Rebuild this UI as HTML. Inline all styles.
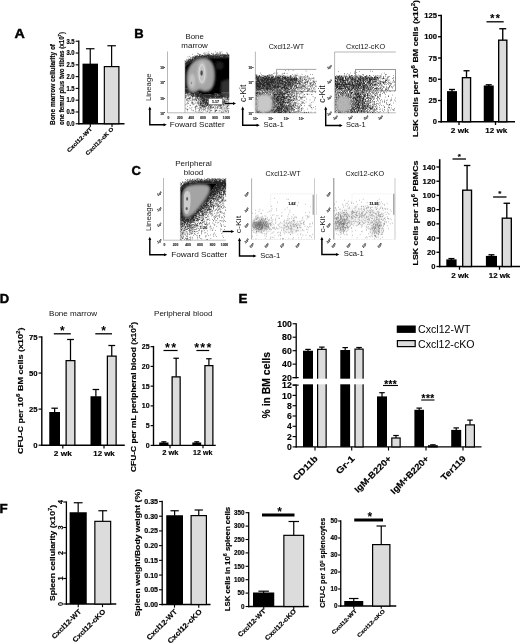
<!DOCTYPE html>
<html><head><meta charset="utf-8"><title>Figure</title>
<style>html,body{margin:0;padding:0;background:#fff}svg{display:block}text{font-family:"Liberation Sans", sans-serif}</style></head><body>
<svg width="520" height="644" viewBox="0 0 520 644">
<defs><filter id="b1" x="-20%" y="-20%" width="140%" height="140%"><feGaussianBlur stdDeviation="1"/></filter><filter id="b2" x="-20%" y="-20%" width="140%" height="140%"><feGaussianBlur stdDeviation="2"/></filter><filter id="b05" x="-20%" y="-20%" width="140%" height="140%"><feGaussianBlur stdDeviation="0.5"/></filter><filter id="soft" x="-2%" y="-2%" width="104%" height="104%"><feGaussianBlur stdDeviation="0.42"/></filter></defs>
<rect width="520" height="644" fill="#fff"/>
<g filter="url(#soft)">
<text x="14.60" y="37.70" font-size="13" font-weight="bold" textLength="10.3" lengthAdjust="spacingAndGlyphs" stroke="#000" stroke-width="0.45">A</text>
<text x="134.20" y="37.70" font-size="13" font-weight="bold" stroke="#000" stroke-width="0.45">B</text>
<text x="131.60" y="174.50" font-size="13" font-weight="bold" stroke="#000" stroke-width="0.45">C</text>
<text x="-0.30" y="303.00" font-size="13" font-weight="bold" stroke="#000" stroke-width="0.45">D</text>
<text x="238.40" y="303.40" font-size="13.4" font-weight="bold" stroke="#000" stroke-width="0.45">E</text>
<text x="-0.40" y="512.90" font-size="13.4" font-weight="bold" stroke="#000" stroke-width="0.45">F</text>
<path d="M78.80 40.60L78.80 124.40" stroke="#000" stroke-width="1.3" fill="none"/>
<path d="M78.15 123.75L124.50 123.75" stroke="#000" stroke-width="1.3" fill="none"/>
<path d="M75.65 123.75L78.80 123.75" stroke="#000" stroke-width="1.105" fill="none"/>
<text x="74.65" y="126.02" font-size="6.3" font-weight="bold" stroke="#000" stroke-width="0.16" text-anchor="end" textLength="8.2" lengthAdjust="spacingAndGlyphs">0.0</text>
<path d="M75.65 111.97L78.80 111.97" stroke="#000" stroke-width="1.105" fill="none"/>
<text x="74.65" y="114.23" font-size="6.3" font-weight="bold" stroke="#000" stroke-width="0.16" text-anchor="end" textLength="8.2" lengthAdjust="spacingAndGlyphs">0.5</text>
<path d="M75.65 100.18L78.80 100.18" stroke="#000" stroke-width="1.105" fill="none"/>
<text x="74.65" y="102.45" font-size="6.3" font-weight="bold" stroke="#000" stroke-width="0.16" text-anchor="end" textLength="8.2" lengthAdjust="spacingAndGlyphs">1.0</text>
<path d="M75.65 88.39L78.80 88.39" stroke="#000" stroke-width="1.105" fill="none"/>
<text x="74.65" y="90.66" font-size="6.3" font-weight="bold" stroke="#000" stroke-width="0.16" text-anchor="end" textLength="8.2" lengthAdjust="spacingAndGlyphs">1.5</text>
<path d="M75.65 76.61L78.80 76.61" stroke="#000" stroke-width="1.105" fill="none"/>
<text x="74.65" y="78.88" font-size="6.3" font-weight="bold" stroke="#000" stroke-width="0.16" text-anchor="end" textLength="8.2" lengthAdjust="spacingAndGlyphs">2.0</text>
<path d="M75.65 64.83L78.80 64.83" stroke="#000" stroke-width="1.105" fill="none"/>
<text x="74.65" y="67.09" font-size="6.3" font-weight="bold" stroke="#000" stroke-width="0.16" text-anchor="end" textLength="8.2" lengthAdjust="spacingAndGlyphs">2.5</text>
<path d="M75.65 53.04L78.80 53.04" stroke="#000" stroke-width="1.105" fill="none"/>
<text x="74.65" y="55.31" font-size="6.3" font-weight="bold" stroke="#000" stroke-width="0.16" text-anchor="end" textLength="8.2" lengthAdjust="spacingAndGlyphs">3.0</text>
<path d="M75.65 41.25L78.80 41.25" stroke="#000" stroke-width="1.105" fill="none"/>
<text x="74.65" y="43.52" font-size="6.3" font-weight="bold" stroke="#000" stroke-width="0.16" text-anchor="end" textLength="8.2" lengthAdjust="spacingAndGlyphs">3.5</text>
<path d="M90.30 123.75L90.30 126.90" stroke="#000" stroke-width="1.105" fill="none"/>
<path d="M112.00 123.75L112.00 126.90" stroke="#000" stroke-width="1.105" fill="none"/>
<path d="M90.25 48.75L90.25 64.15" stroke="#000" stroke-width="1.2" fill="none"/>
<path d="M86.00 48.75L94.50 48.75" stroke="#000" stroke-width="1.2" fill="none"/>
<rect x="82.50" y="63.65" width="15.50" height="60.10" fill="#000"/>
<path d="M111.62 45.75L111.62 66.50" stroke="#000" stroke-width="1.2" fill="none"/>
<path d="M107.38 45.75L115.88 45.75" stroke="#000" stroke-width="1.2" fill="none"/>
<rect x="104.35" y="66.60" width="14.55" height="57.15" fill="#dcdcdc" stroke="#000" stroke-width="1.2"/>
<text x="55.00" y="125.00" font-size="6.3" font-weight="bold" stroke="#000" stroke-width="0.16" transform="rotate(-90 55.00 125.00)" textLength="81.0" lengthAdjust="spacingAndGlyphs">Bone marrow cellularity of</text>
<text x="63.50" y="125.00" font-size="6.3" font-weight="bold" stroke="#000" stroke-width="0.16" transform="rotate(-90 63.50 125.00)" textLength="93.0" lengthAdjust="spacingAndGlyphs">one femur plus two tibias (x10<tspan dy="-2.52" font-size="4.28">7</tspan><tspan dy="2.52">)</tspan></text>
<text x="92.50" y="129.50" font-size="5.6" font-weight="bold" stroke="#000" stroke-width="0.16" text-anchor="end" transform="rotate(-45 92.50 129.50)" textLength="33.0" lengthAdjust="spacingAndGlyphs">Cxcl12-WT</text>
<text x="114.00" y="129.50" font-size="5.6" font-weight="bold" stroke="#000" stroke-width="0.16" text-anchor="end" transform="rotate(-45 114.00 129.50)" textLength="37.0" lengthAdjust="spacingAndGlyphs">Cxcl12-cK O</text>
<path d="M441.25 14.72L441.25 122.53" stroke="#000" stroke-width="1.55" fill="none"/>
<path d="M440.48 121.75L515.00 121.75" stroke="#000" stroke-width="1.55" fill="none"/>
<path d="M437.98 121.75L441.25 121.75" stroke="#000" stroke-width="1.3175" fill="none"/>
<text x="436.98" y="124.27" font-size="7" font-weight="bold" stroke="#000" stroke-width="0.16" text-anchor="end" textLength="4.2" lengthAdjust="spacingAndGlyphs">0</text>
<path d="M437.98 100.50L441.25 100.50" stroke="#000" stroke-width="1.3175" fill="none"/>
<text x="436.98" y="103.02" font-size="7" font-weight="bold" stroke="#000" stroke-width="0.16" text-anchor="end" textLength="8.5" lengthAdjust="spacingAndGlyphs">25</text>
<path d="M437.98 79.25L441.25 79.25" stroke="#000" stroke-width="1.3175" fill="none"/>
<text x="436.98" y="81.77" font-size="7" font-weight="bold" stroke="#000" stroke-width="0.16" text-anchor="end" textLength="8.5" lengthAdjust="spacingAndGlyphs">50</text>
<path d="M437.98 58.00L441.25 58.00" stroke="#000" stroke-width="1.3175" fill="none"/>
<text x="436.98" y="60.52" font-size="7" font-weight="bold" stroke="#000" stroke-width="0.16" text-anchor="end" textLength="8.5" lengthAdjust="spacingAndGlyphs">75</text>
<path d="M437.98 36.75L441.25 36.75" stroke="#000" stroke-width="1.3175" fill="none"/>
<text x="436.98" y="39.27" font-size="7" font-weight="bold" stroke="#000" stroke-width="0.16" text-anchor="end" textLength="12.8" lengthAdjust="spacingAndGlyphs">100</text>
<path d="M437.98 15.50L441.25 15.50" stroke="#000" stroke-width="1.3175" fill="none"/>
<text x="436.98" y="18.02" font-size="7" font-weight="bold" stroke="#000" stroke-width="0.16" text-anchor="end" textLength="12.8" lengthAdjust="spacingAndGlyphs">125</text>
<path d="M459.00 121.75L459.00 125.03" stroke="#000" stroke-width="1.3175" fill="none"/>
<path d="M495.50 121.75L495.50 125.03" stroke="#000" stroke-width="1.3175" fill="none"/>
<path d="M452.00 89.50L452.00 91.65" stroke="#000" stroke-width="1.35" fill="none"/>
<path d="M449.00 89.50L455.00 89.50" stroke="#000" stroke-width="1.35" fill="none"/>
<rect x="447.00" y="91.15" width="10.00" height="30.60" fill="#000"/>
<path d="M466.50 70.75L466.50 77.50" stroke="#000" stroke-width="1.35" fill="none"/>
<path d="M463.50 70.75L469.50 70.75" stroke="#000" stroke-width="1.35" fill="none"/>
<rect x="462.43" y="77.67" width="8.15" height="44.08" fill="#dcdcdc" stroke="#000" stroke-width="1.35"/>
<path d="M488.75 84.80L488.75 86.00" stroke="#000" stroke-width="1.35" fill="none"/>
<path d="M485.75 84.80L491.75 84.80" stroke="#000" stroke-width="1.35" fill="none"/>
<rect x="483.75" y="85.50" width="10.00" height="36.25" fill="#000"/>
<path d="M502.75 28.75L502.75 40.00" stroke="#000" stroke-width="1.35" fill="none"/>
<path d="M499.25 28.75L506.25 28.75" stroke="#000" stroke-width="1.35" fill="none"/>
<rect x="498.68" y="40.17" width="8.15" height="81.58" fill="#dcdcdc" stroke="#000" stroke-width="1.35"/>
<path d="M486.50 21.80L503.70 21.80" stroke="#000" stroke-width="1.3" fill="none"/>
<text x="495.10" y="21.66" font-size="10.5" font-weight="bold" stroke="#000" stroke-width="0.16" text-anchor="middle" textLength="9.6" lengthAdjust="spacing">**</text>
<text x="459.80" y="133.00" font-size="7.4" font-weight="bold" stroke="#000" stroke-width="0.16" text-anchor="middle" textLength="18.0" lengthAdjust="spacingAndGlyphs">2 wk</text>
<text x="496.30" y="133.00" font-size="7.4" font-weight="bold" stroke="#000" stroke-width="0.16" text-anchor="middle" textLength="22.0" lengthAdjust="spacingAndGlyphs">12 wk</text>
<text x="417.80" y="137.00" font-size="7.8" font-weight="bold" stroke="#000" stroke-width="0.16" transform="rotate(-90 417.80 137.00)" textLength="137.0" lengthAdjust="spacingAndGlyphs">LSK cells per 10<tspan dy="-3.12" font-size="5.30">6</tspan><tspan dy="3.12"> BM cells (x10<tspan dy="-3.12" font-size="5.30">2</tspan><tspan dy="3.12">)</tspan></tspan></text>
<path d="M439.70 159.22L439.70 267.27" stroke="#000" stroke-width="1.55" fill="none"/>
<path d="M438.93 266.50L520.00 266.50" stroke="#000" stroke-width="1.55" fill="none"/>
<path d="M436.43 266.50L439.70 266.50" stroke="#000" stroke-width="1.3175" fill="none"/>
<text x="435.43" y="269.02" font-size="7" font-weight="bold" stroke="#000" stroke-width="0.16" text-anchor="end" textLength="4.2" lengthAdjust="spacingAndGlyphs">0</text>
<path d="M436.43 252.29L439.70 252.29" stroke="#000" stroke-width="1.3175" fill="none"/>
<text x="435.43" y="254.81" font-size="7" font-weight="bold" stroke="#000" stroke-width="0.16" text-anchor="end" textLength="8.5" lengthAdjust="spacingAndGlyphs">20</text>
<path d="M436.43 238.07L439.70 238.07" stroke="#000" stroke-width="1.3175" fill="none"/>
<text x="435.43" y="240.59" font-size="7" font-weight="bold" stroke="#000" stroke-width="0.16" text-anchor="end" textLength="8.5" lengthAdjust="spacingAndGlyphs">40</text>
<path d="M436.43 223.86L439.70 223.86" stroke="#000" stroke-width="1.3175" fill="none"/>
<text x="435.43" y="226.38" font-size="7" font-weight="bold" stroke="#000" stroke-width="0.16" text-anchor="end" textLength="8.5" lengthAdjust="spacingAndGlyphs">60</text>
<path d="M436.43 209.64L439.70 209.64" stroke="#000" stroke-width="1.3175" fill="none"/>
<text x="435.43" y="212.16" font-size="7" font-weight="bold" stroke="#000" stroke-width="0.16" text-anchor="end" textLength="8.5" lengthAdjust="spacingAndGlyphs">80</text>
<path d="M436.43 195.43L439.70 195.43" stroke="#000" stroke-width="1.3175" fill="none"/>
<text x="435.43" y="197.95" font-size="7" font-weight="bold" stroke="#000" stroke-width="0.16" text-anchor="end" textLength="12.8" lengthAdjust="spacingAndGlyphs">100</text>
<path d="M436.43 181.22L439.70 181.22" stroke="#000" stroke-width="1.3175" fill="none"/>
<text x="435.43" y="183.74" font-size="7" font-weight="bold" stroke="#000" stroke-width="0.16" text-anchor="end" textLength="12.8" lengthAdjust="spacingAndGlyphs">120</text>
<path d="M436.43 167.00L439.70 167.00" stroke="#000" stroke-width="1.3175" fill="none"/>
<text x="435.43" y="169.52" font-size="7" font-weight="bold" stroke="#000" stroke-width="0.16" text-anchor="end" textLength="12.8" lengthAdjust="spacingAndGlyphs">140</text>
<path d="M459.50 266.50L459.50 269.77" stroke="#000" stroke-width="1.3175" fill="none"/>
<path d="M499.50 266.50L499.50 269.77" stroke="#000" stroke-width="1.3175" fill="none"/>
<path d="M451.45 258.60L451.45 259.90" stroke="#000" stroke-width="1.35" fill="none"/>
<path d="M448.45 258.60L454.45 258.60" stroke="#000" stroke-width="1.35" fill="none"/>
<rect x="446.30" y="259.40" width="10.30" height="7.10" fill="#000"/>
<path d="M467.10 165.50L467.10 190.00" stroke="#000" stroke-width="1.35" fill="none"/>
<path d="M463.85 165.50L470.35 165.50" stroke="#000" stroke-width="1.35" fill="none"/>
<rect x="462.68" y="190.18" width="8.85" height="76.33" fill="#dcdcdc" stroke="#000" stroke-width="1.35"/>
<path d="M491.45 254.80L491.45 256.40" stroke="#000" stroke-width="1.35" fill="none"/>
<path d="M488.45 254.80L494.45 254.80" stroke="#000" stroke-width="1.35" fill="none"/>
<rect x="485.90" y="255.90" width="11.10" height="10.60" fill="#000"/>
<path d="M506.80 203.25L506.80 218.00" stroke="#000" stroke-width="1.35" fill="none"/>
<path d="M503.55 203.25L510.05 203.25" stroke="#000" stroke-width="1.35" fill="none"/>
<rect x="502.28" y="218.18" width="9.05" height="48.33" fill="#dcdcdc" stroke="#000" stroke-width="1.35"/>
<path d="M452.50 159.00L466.00 159.00" stroke="#000" stroke-width="1.3" fill="none"/>
<text x="459.25" y="158.98" font-size="8" font-weight="bold" stroke="#000" stroke-width="0.16" text-anchor="middle">*</text>
<path d="M493.10 197.00L506.50 197.00" stroke="#000" stroke-width="1.3" fill="none"/>
<text x="499.80" y="196.48" font-size="8" font-weight="bold" stroke="#000" stroke-width="0.16" text-anchor="middle">*</text>
<text x="460.00" y="277.50" font-size="7.4" font-weight="bold" stroke="#000" stroke-width="0.16" text-anchor="middle" textLength="17.5" lengthAdjust="spacingAndGlyphs">2 wk</text>
<text x="499.50" y="277.50" font-size="7.4" font-weight="bold" stroke="#000" stroke-width="0.16" text-anchor="middle" textLength="21.5" lengthAdjust="spacingAndGlyphs">12 wk</text>
<text x="417.80" y="265.50" font-size="7.8" font-weight="bold" stroke="#000" stroke-width="0.16" transform="rotate(-90 417.80 265.50)" textLength="105.0" lengthAdjust="spacingAndGlyphs">LSK cells per 10<tspan dy="-3.12" font-size="5.30">6</tspan><tspan dy="3.12"> PBMCs</tspan></text>
<path d="M41.80 336.27L41.80 445.90" stroke="#000" stroke-width="1.4" fill="none"/>
<path d="M41.10 445.20L124.80 445.20" stroke="#000" stroke-width="1.4" fill="none"/>
<path d="M38.60 445.20L41.80 445.20" stroke="#000" stroke-width="1.19" fill="none"/>
<text x="37.60" y="447.90" font-size="7.5" font-weight="bold" stroke="#000" stroke-width="0.16" text-anchor="end" textLength="4.3" lengthAdjust="spacingAndGlyphs">0</text>
<path d="M38.60 409.12L41.80 409.12" stroke="#000" stroke-width="1.19" fill="none"/>
<text x="37.60" y="411.82" font-size="7.5" font-weight="bold" stroke="#000" stroke-width="0.16" text-anchor="end" textLength="8.6" lengthAdjust="spacingAndGlyphs">25</text>
<path d="M38.60 373.05L41.80 373.05" stroke="#000" stroke-width="1.19" fill="none"/>
<text x="37.60" y="375.75" font-size="7.5" font-weight="bold" stroke="#000" stroke-width="0.16" text-anchor="end" textLength="8.6" lengthAdjust="spacingAndGlyphs">50</text>
<path d="M38.60 336.97L41.80 336.97" stroke="#000" stroke-width="1.19" fill="none"/>
<text x="37.60" y="339.67" font-size="7.5" font-weight="bold" stroke="#000" stroke-width="0.16" text-anchor="end" textLength="8.6" lengthAdjust="spacingAndGlyphs">75</text>
<path d="M62.80 445.20L62.80 448.40" stroke="#000" stroke-width="1.19" fill="none"/>
<path d="M104.00 445.20L104.00 448.40" stroke="#000" stroke-width="1.19" fill="none"/>
<path d="M54.62 408.20L54.62 412.50" stroke="#000" stroke-width="1.25" fill="none"/>
<path d="M51.38 408.20L57.88 408.20" stroke="#000" stroke-width="1.25" fill="none"/>
<rect x="49.25" y="412.00" width="10.75" height="33.20" fill="#000"/>
<path d="M70.50 339.50L70.50 360.50" stroke="#000" stroke-width="1.25" fill="none"/>
<path d="M67.10 339.50L73.90 339.50" stroke="#000" stroke-width="1.25" fill="none"/>
<rect x="66.12" y="360.62" width="8.75" height="84.57" fill="#dcdcdc" stroke="#000" stroke-width="1.25"/>
<path d="M95.88 389.50L95.88 396.75" stroke="#000" stroke-width="1.25" fill="none"/>
<path d="M92.62 389.50L99.12 389.50" stroke="#000" stroke-width="1.25" fill="none"/>
<rect x="90.50" y="396.25" width="10.75" height="48.95" fill="#000"/>
<path d="M111.75 345.50L111.75 356.00" stroke="#000" stroke-width="1.25" fill="none"/>
<path d="M108.35 345.50L115.15 345.50" stroke="#000" stroke-width="1.25" fill="none"/>
<rect x="107.38" y="356.12" width="8.75" height="89.07" fill="#dcdcdc" stroke="#000" stroke-width="1.25"/>
<path d="M53.80 333.80L70.80 333.80" stroke="#000" stroke-width="1.3" fill="none"/>
<text x="62.30" y="334.62" font-size="12" font-weight="bold" text-anchor="middle">*</text>
<path d="M95.30 333.80L112.00 333.80" stroke="#000" stroke-width="1.3" fill="none"/>
<text x="103.65" y="334.62" font-size="12" font-weight="bold" text-anchor="middle">*</text>
<text x="73.00" y="315.60" font-size="7.4" text-anchor="middle" textLength="48.0" lengthAdjust="spacingAndGlyphs" fill="#111">Bone marrow</text>
<text x="62.80" y="456.30" font-size="7.2" font-weight="bold" stroke="#000" stroke-width="0.16" text-anchor="middle" textLength="18.0" lengthAdjust="spacingAndGlyphs">2 wk</text>
<text x="104.00" y="456.30" font-size="7.2" font-weight="bold" stroke="#000" stroke-width="0.16" text-anchor="middle" textLength="21.5" lengthAdjust="spacingAndGlyphs">12 wk</text>
<text x="23.40" y="454.00" font-size="8.0" font-weight="bold" stroke="#000" stroke-width="0.16" transform="rotate(-90 23.40 454.00)" textLength="126.5" lengthAdjust="spacingAndGlyphs">CFU-C per 10<tspan dy="-3.20" font-size="5.44">6</tspan><tspan dy="3.20"> BM cells (x10<tspan dy="-3.20" font-size="5.44">2</tspan><tspan dy="3.20">)</tspan></tspan></text>
<path d="M153.50 345.95L153.50 446.10" stroke="#000" stroke-width="1.4" fill="none"/>
<path d="M152.80 445.40L215.75 445.40" stroke="#000" stroke-width="1.4" fill="none"/>
<path d="M150.60 445.40L153.50 445.40" stroke="#000" stroke-width="1.19" fill="none"/>
<text x="149.60" y="447.85" font-size="6.8" font-weight="bold" stroke="#000" stroke-width="0.16" text-anchor="end" textLength="3.9" lengthAdjust="spacingAndGlyphs">0</text>
<path d="M150.60 425.65L153.50 425.65" stroke="#000" stroke-width="1.19" fill="none"/>
<text x="149.60" y="428.10" font-size="6.8" font-weight="bold" stroke="#000" stroke-width="0.16" text-anchor="end" textLength="3.9" lengthAdjust="spacingAndGlyphs">5</text>
<path d="M150.60 405.90L153.50 405.90" stroke="#000" stroke-width="1.19" fill="none"/>
<text x="149.60" y="408.35" font-size="6.8" font-weight="bold" stroke="#000" stroke-width="0.16" text-anchor="end" textLength="7.8" lengthAdjust="spacingAndGlyphs">10</text>
<path d="M150.60 386.15L153.50 386.15" stroke="#000" stroke-width="1.19" fill="none"/>
<text x="149.60" y="388.60" font-size="6.8" font-weight="bold" stroke="#000" stroke-width="0.16" text-anchor="end" textLength="7.8" lengthAdjust="spacingAndGlyphs">15</text>
<path d="M150.60 366.40L153.50 366.40" stroke="#000" stroke-width="1.19" fill="none"/>
<text x="149.60" y="368.85" font-size="6.8" font-weight="bold" stroke="#000" stroke-width="0.16" text-anchor="end" textLength="7.8" lengthAdjust="spacingAndGlyphs">20</text>
<path d="M150.60 346.65L153.50 346.65" stroke="#000" stroke-width="1.19" fill="none"/>
<text x="149.60" y="349.10" font-size="6.8" font-weight="bold" stroke="#000" stroke-width="0.16" text-anchor="end" textLength="7.8" lengthAdjust="spacingAndGlyphs">25</text>
<path d="M170.00 445.40L170.00 448.30" stroke="#000" stroke-width="1.19" fill="none"/>
<path d="M203.00 445.40L203.00 448.30" stroke="#000" stroke-width="1.19" fill="none"/>
<path d="M163.85 441.80L163.85 443.00" stroke="#000" stroke-width="1.25" fill="none"/>
<path d="M161.35 441.80L166.35 441.80" stroke="#000" stroke-width="1.25" fill="none"/>
<rect x="159.20" y="442.50" width="9.30" height="2.90" fill="#000"/>
<path d="M176.15 358.25L176.15 376.75" stroke="#000" stroke-width="1.25" fill="none"/>
<path d="M173.40 358.25L178.90 358.25" stroke="#000" stroke-width="1.25" fill="none"/>
<rect x="172.12" y="376.88" width="8.05" height="68.52" fill="#dcdcdc" stroke="#000" stroke-width="1.25"/>
<path d="M196.75 441.80L196.75 443.00" stroke="#000" stroke-width="1.25" fill="none"/>
<path d="M194.25 441.80L199.25 441.80" stroke="#000" stroke-width="1.25" fill="none"/>
<rect x="192.30" y="442.50" width="8.90" height="2.90" fill="#000"/>
<path d="M208.90 358.75L208.90 365.50" stroke="#000" stroke-width="1.25" fill="none"/>
<path d="M206.15 358.75L211.65 358.75" stroke="#000" stroke-width="1.25" fill="none"/>
<rect x="204.93" y="365.62" width="7.95" height="79.77" fill="#dcdcdc" stroke="#000" stroke-width="1.25"/>
<path d="M163.50 350.50L177.60 350.50" stroke="#000" stroke-width="1.2" fill="none"/>
<text x="170.55" y="351.68" font-size="12.5" font-weight="bold" text-anchor="middle" textLength="11.0" lengthAdjust="spacing">**</text>
<path d="M196.40 350.50L209.20 350.50" stroke="#000" stroke-width="1.2" fill="none"/>
<text x="202.80" y="351.68" font-size="12.5" font-weight="bold" text-anchor="middle" textLength="17.0" lengthAdjust="spacing">***</text>
<text x="183.30" y="316.20" font-size="7.4" text-anchor="middle" textLength="58.5" lengthAdjust="spacingAndGlyphs" fill="#111">Peripheral blood</text>
<text x="170.30" y="455.40" font-size="6.8" font-weight="bold" stroke="#000" stroke-width="0.16" text-anchor="middle" textLength="16.2" lengthAdjust="spacingAndGlyphs">2 wk</text>
<text x="202.70" y="455.40" font-size="6.8" font-weight="bold" stroke="#000" stroke-width="0.16" text-anchor="middle" textLength="19.3" lengthAdjust="spacingAndGlyphs">12 wk</text>
<text x="136.00" y="472.00" font-size="6.8" font-weight="bold" stroke="#000" stroke-width="0.16" transform="rotate(-90 136.00 472.00)" textLength="150.0" lengthAdjust="spacingAndGlyphs">CFU-C per mL peripheral blood (x10<tspan dy="-2.72" font-size="4.62">2</tspan><tspan dy="2.72">)</tspan></text>
<path d="M296.20 323.15L296.20 378.40" stroke="#000" stroke-width="1.3" fill="none"/>
<path d="M296.20 384.60L296.20 447.50" stroke="#000" stroke-width="1.3" fill="none"/>
<path d="M295.60 446.90L481.50 446.90" stroke="#000" stroke-width="1.3" fill="none"/>
<path d="M292.60 377.60L296.20 377.60" stroke="#000" stroke-width="1.15" fill="none"/>
<text x="291.80" y="380.70" font-size="8.8" font-weight="bold" stroke="#000" stroke-width="0.16" text-anchor="end" textLength="9.7" lengthAdjust="spacingAndGlyphs">20</text>
<path d="M292.60 364.14L296.20 364.14" stroke="#000" stroke-width="1.15" fill="none"/>
<text x="291.80" y="367.24" font-size="8.8" font-weight="bold" stroke="#000" stroke-width="0.16" text-anchor="end" textLength="9.7" lengthAdjust="spacingAndGlyphs">40</text>
<path d="M292.60 350.68L296.20 350.68" stroke="#000" stroke-width="1.15" fill="none"/>
<text x="291.80" y="353.78" font-size="8.8" font-weight="bold" stroke="#000" stroke-width="0.16" text-anchor="end" textLength="9.7" lengthAdjust="spacingAndGlyphs">60</text>
<path d="M292.60 337.21L296.20 337.21" stroke="#000" stroke-width="1.15" fill="none"/>
<text x="291.80" y="340.31" font-size="8.8" font-weight="bold" stroke="#000" stroke-width="0.16" text-anchor="end" textLength="9.7" lengthAdjust="spacingAndGlyphs">80</text>
<path d="M292.60 323.75L296.20 323.75" stroke="#000" stroke-width="1.15" fill="none"/>
<text x="291.80" y="326.85" font-size="8.8" font-weight="bold" stroke="#000" stroke-width="0.16" text-anchor="end" textLength="14.5" lengthAdjust="spacingAndGlyphs">100</text>
<path d="M292.60 446.90L296.20 446.90" stroke="#000" stroke-width="1.15" fill="none"/>
<text x="291.80" y="450.00" font-size="8.8" font-weight="bold" stroke="#000" stroke-width="0.16" text-anchor="end" textLength="4.8" lengthAdjust="spacingAndGlyphs">0</text>
<path d="M292.60 436.60L296.20 436.60" stroke="#000" stroke-width="1.15" fill="none"/>
<text x="291.80" y="439.70" font-size="8.8" font-weight="bold" stroke="#000" stroke-width="0.16" text-anchor="end" textLength="4.8" lengthAdjust="spacingAndGlyphs">2</text>
<path d="M292.60 426.30L296.20 426.30" stroke="#000" stroke-width="1.15" fill="none"/>
<text x="291.80" y="429.40" font-size="8.8" font-weight="bold" stroke="#000" stroke-width="0.16" text-anchor="end" textLength="4.8" lengthAdjust="spacingAndGlyphs">4</text>
<path d="M292.60 416.00L296.20 416.00" stroke="#000" stroke-width="1.15" fill="none"/>
<text x="291.80" y="419.10" font-size="8.8" font-weight="bold" stroke="#000" stroke-width="0.16" text-anchor="end" textLength="4.8" lengthAdjust="spacingAndGlyphs">6</text>
<path d="M292.60 405.70L296.20 405.70" stroke="#000" stroke-width="1.15" fill="none"/>
<text x="291.80" y="408.80" font-size="8.8" font-weight="bold" stroke="#000" stroke-width="0.16" text-anchor="end" textLength="4.8" lengthAdjust="spacingAndGlyphs">8</text>
<path d="M292.60 395.40L296.20 395.40" stroke="#000" stroke-width="1.15" fill="none"/>
<text x="291.80" y="398.50" font-size="8.8" font-weight="bold" stroke="#000" stroke-width="0.16" text-anchor="end" textLength="9.7" lengthAdjust="spacingAndGlyphs">10</text>
<path d="M292.60 385.10L296.20 385.10" stroke="#000" stroke-width="1.15" fill="none"/>
<text x="291.80" y="388.20" font-size="8.8" font-weight="bold" stroke="#000" stroke-width="0.16" text-anchor="end" textLength="9.7" lengthAdjust="spacingAndGlyphs">12</text>
<path d="M292.60 377.60L298.70 377.60" stroke="#000" stroke-width="1.15" fill="none"/>
<path d="M292.60 385.10L298.70 385.10" stroke="#000" stroke-width="1.15" fill="none"/>
<path d="M315.00 446.90L315.00 450.50" stroke="#000" stroke-width="1.15" fill="none"/>
<path d="M351.70 446.90L351.70 450.50" stroke="#000" stroke-width="1.15" fill="none"/>
<path d="M388.50 446.90L388.50 450.50" stroke="#000" stroke-width="1.15" fill="none"/>
<path d="M426.00 446.90L426.00 450.50" stroke="#000" stroke-width="1.15" fill="none"/>
<path d="M463.00 446.90L463.00 450.50" stroke="#000" stroke-width="1.15" fill="none"/>
<path d="M308.00 349.40L308.00 351.25" stroke="#000" stroke-width="1.2" fill="none"/>
<path d="M305.25 349.40L310.75 349.40" stroke="#000" stroke-width="1.2" fill="none"/>
<rect x="303.00" y="350.75" width="10.00" height="96.15" fill="#000"/>
<path d="M321.88 347.10L321.88 349.25" stroke="#000" stroke-width="1.2" fill="none"/>
<path d="M319.12 347.10L324.62 347.10" stroke="#000" stroke-width="1.2" fill="none"/>
<rect x="317.60" y="349.35" width="8.55" height="97.55" fill="#dcdcdc" stroke="#000" stroke-width="1.2"/>
<path d="M345.20 347.60L345.20 350.50" stroke="#000" stroke-width="1.2" fill="none"/>
<path d="M342.45 347.60L347.95 347.60" stroke="#000" stroke-width="1.2" fill="none"/>
<rect x="340.30" y="350.00" width="9.80" height="96.90" fill="#000"/>
<path d="M359.05 347.50L359.05 349.00" stroke="#000" stroke-width="1.2" fill="none"/>
<path d="M356.30 347.50L361.80 347.50" stroke="#000" stroke-width="1.2" fill="none"/>
<rect x="355.00" y="349.10" width="8.10" height="97.80" fill="#dcdcdc" stroke="#000" stroke-width="1.2"/>
<rect x="300.00" y="378.70" width="66.00" height="5.60" fill="#fff"/>
<path d="M382.00 392.70L382.00 396.90" stroke="#000" stroke-width="1.2" fill="none"/>
<path d="M379.25 392.70L384.75 392.70" stroke="#000" stroke-width="1.2" fill="none"/>
<rect x="377.00" y="396.40" width="10.00" height="50.50" fill="#000"/>
<path d="M395.98 435.50L395.98 437.90" stroke="#000" stroke-width="1.2" fill="none"/>
<path d="M393.23 435.50L398.73 435.50" stroke="#000" stroke-width="1.2" fill="none"/>
<rect x="391.80" y="438.00" width="8.35" height="8.90" fill="#dcdcdc" stroke="#000" stroke-width="1.2"/>
<path d="M419.20 408.10L419.20 410.30" stroke="#000" stroke-width="1.2" fill="none"/>
<path d="M416.45 408.10L421.95 408.10" stroke="#000" stroke-width="1.2" fill="none"/>
<rect x="414.40" y="409.80" width="9.60" height="37.10" fill="#000"/>
<path d="M432.90 444.80L432.90 445.70" stroke="#000" stroke-width="1.2" fill="none"/>
<path d="M430.15 444.80L435.65 444.80" stroke="#000" stroke-width="1.2" fill="none"/>
<rect x="428.60" y="445.80" width="8.60" height="1.10" fill="#dcdcdc" stroke="#000" stroke-width="1.2"/>
<path d="M456.20 427.90L456.20 430.40" stroke="#000" stroke-width="1.2" fill="none"/>
<path d="M453.45 427.90L458.95 427.90" stroke="#000" stroke-width="1.2" fill="none"/>
<rect x="451.20" y="429.90" width="10.00" height="17.00" fill="#000"/>
<path d="M470.00 420.10L470.00 424.80" stroke="#000" stroke-width="1.2" fill="none"/>
<path d="M467.25 420.10L472.75 420.10" stroke="#000" stroke-width="1.2" fill="none"/>
<rect x="465.60" y="424.90" width="8.80" height="22.00" fill="#dcdcdc" stroke="#000" stroke-width="1.2"/>
<path d="M383.00 385.50L398.00 385.50" stroke="#000" stroke-width="1.1" fill="none"/>
<text x="390.50" y="387.50" font-size="10" font-weight="bold" stroke="#000" stroke-width="0.16" text-anchor="middle" textLength="12.5" lengthAdjust="spacing">***</text>
<path d="M421.20 400.00L434.50 400.00" stroke="#000" stroke-width="1.1" fill="none"/>
<text x="427.85" y="401.50" font-size="10" font-weight="bold" stroke="#000" stroke-width="0.16" text-anchor="middle" textLength="12.5" lengthAdjust="spacing">***</text>
<rect x="396.75" y="325.50" width="19.00" height="7.40" fill="#000"/>
<rect x="397.40" y="340.60" width="17.80" height="6.00" fill="#dcdcdc" stroke="#000" stroke-width="1.2"/>
<text x="418.00" y="333.20" font-size="10.7" textLength="52.5" lengthAdjust="spacingAndGlyphs">Cxcl12-WT</text>
<text x="418.00" y="347.60" font-size="10.7" textLength="56.5" lengthAdjust="spacingAndGlyphs">Cxcl12-cKO</text>
<text x="269.60" y="418.50" font-size="10" font-weight="bold" stroke="#000" stroke-width="0.16" transform="rotate(-90 269.60 418.50)" textLength="66.5" lengthAdjust="spacingAndGlyphs">% in BM cells</text>
<text x="318.40" y="459.30" font-size="8.9" font-weight="bold" stroke="#000" stroke-width="0.16" text-anchor="end" transform="rotate(-45 318.40 459.30)" textLength="31.0" lengthAdjust="spacingAndGlyphs">CD11b</text>
<text x="355.10" y="459.30" font-size="8.9" font-weight="bold" stroke="#000" stroke-width="0.16" text-anchor="end" transform="rotate(-45 355.10 459.30)" textLength="22.0" lengthAdjust="spacingAndGlyphs">Gr-1</text>
<text x="391.90" y="459.30" font-size="8.9" font-weight="bold" stroke="#000" stroke-width="0.16" text-anchor="end" transform="rotate(-45 391.90 459.30)" textLength="48.0" lengthAdjust="spacingAndGlyphs">IgM-B220+</text>
<text x="429.40" y="459.30" font-size="8.9" font-weight="bold" stroke="#000" stroke-width="0.16" text-anchor="end" transform="rotate(-45 429.40 459.30)" textLength="50.0" lengthAdjust="spacingAndGlyphs">IgM+B220+</text>
<text x="466.40" y="459.30" font-size="8.9" font-weight="bold" stroke="#000" stroke-width="0.16" text-anchor="end" transform="rotate(-45 466.40 459.30)" textLength="31.0" lengthAdjust="spacingAndGlyphs">Ter119</text>
<path d="M66.40 501.35L66.40 604.65" stroke="#000" stroke-width="1.3" fill="none"/>
<path d="M65.75 604.00L116.25 604.00" stroke="#000" stroke-width="1.3" fill="none"/>
<path d="M63.25 604.00L66.40 604.00" stroke="#000" stroke-width="1.105" fill="none"/>
<path d="M63.25 578.50L66.40 578.50" stroke="#000" stroke-width="1.105" fill="none"/>
<path d="M63.25 553.00L66.40 553.00" stroke="#000" stroke-width="1.105" fill="none"/>
<path d="M63.25 527.50L66.40 527.50" stroke="#000" stroke-width="1.105" fill="none"/>
<path d="M63.25 502.00L66.40 502.00" stroke="#000" stroke-width="1.105" fill="none"/>
<path d="M78.25 604.00L78.25 607.15" stroke="#000" stroke-width="1.105" fill="none"/>
<path d="M102.50 604.00L102.50 607.15" stroke="#000" stroke-width="1.105" fill="none"/>
<text x="62.60" y="604.00" font-size="7.2" font-weight="bold" stroke="#000" stroke-width="0.16" text-anchor="middle" transform="rotate(-90 62.60 604.00)">0</text>
<text x="62.60" y="578.50" font-size="7.2" font-weight="bold" stroke="#000" stroke-width="0.16" text-anchor="middle" transform="rotate(-90 62.60 578.50)">1</text>
<text x="62.60" y="553.00" font-size="7.2" font-weight="bold" stroke="#000" stroke-width="0.16" text-anchor="middle" transform="rotate(-90 62.60 553.00)">2</text>
<text x="62.60" y="527.50" font-size="7.2" font-weight="bold" stroke="#000" stroke-width="0.16" text-anchor="middle" transform="rotate(-90 62.60 527.50)">3</text>
<text x="62.60" y="502.00" font-size="7.2" font-weight="bold" stroke="#000" stroke-width="0.16" text-anchor="middle" transform="rotate(-90 62.60 502.00)">4</text>
<path d="M78.17 502.75L78.17 512.75" stroke="#000" stroke-width="1.2" fill="none"/>
<path d="M73.77 502.75L82.58 502.75" stroke="#000" stroke-width="1.2" fill="none"/>
<rect x="69.60" y="512.25" width="17.15" height="91.75" fill="#000"/>
<path d="M102.75 510.75L102.75 521.25" stroke="#000" stroke-width="1.2" fill="none"/>
<path d="M98.35 510.75L107.15 510.75" stroke="#000" stroke-width="1.2" fill="none"/>
<rect x="94.85" y="521.35" width="15.80" height="82.65" fill="#dcdcdc" stroke="#000" stroke-width="1.2"/>
<text x="54.70" y="601.00" font-size="7.4" font-weight="bold" stroke="#000" stroke-width="0.16" transform="rotate(-90 54.70 601.00)" textLength="96.0" lengthAdjust="spacingAndGlyphs">Spleen cellularity (x10<tspan dy="-2.96" font-size="5.03">7</tspan><tspan dy="2.96">)</tspan></text>
<text x="81.70" y="612.00" font-size="7.0" font-weight="bold" stroke="#000" stroke-width="0.16" text-anchor="end" transform="rotate(-45 81.70 612.00)" textLength="38.5" lengthAdjust="spacingAndGlyphs">Cxcl12-WT</text>
<text x="106.00" y="612.00" font-size="7.0" font-weight="bold" stroke="#000" stroke-width="0.16" text-anchor="end" transform="rotate(-45 106.00 612.00)" textLength="43.5" lengthAdjust="spacingAndGlyphs">Cxcl12-cKO</text>
<path d="M162.20 500.85L162.20 605.15" stroke="#000" stroke-width="1.3" fill="none"/>
<path d="M161.55 604.50L210.50 604.50" stroke="#000" stroke-width="1.3" fill="none"/>
<path d="M159.05 604.50L162.20 604.50" stroke="#000" stroke-width="1.105" fill="none"/>
<text x="158.05" y="606.98" font-size="6.9" font-weight="bold" stroke="#000" stroke-width="0.16" text-anchor="end" textLength="13.8" lengthAdjust="spacingAndGlyphs">0.00</text>
<path d="M159.05 589.78L162.20 589.78" stroke="#000" stroke-width="1.105" fill="none"/>
<text x="158.05" y="592.27" font-size="6.9" font-weight="bold" stroke="#000" stroke-width="0.16" text-anchor="end" textLength="13.8" lengthAdjust="spacingAndGlyphs">0.05</text>
<path d="M159.05 575.07L162.20 575.07" stroke="#000" stroke-width="1.105" fill="none"/>
<text x="158.05" y="577.55" font-size="6.9" font-weight="bold" stroke="#000" stroke-width="0.16" text-anchor="end" textLength="13.8" lengthAdjust="spacingAndGlyphs">0.10</text>
<path d="M159.05 560.36L162.20 560.36" stroke="#000" stroke-width="1.105" fill="none"/>
<text x="158.05" y="562.84" font-size="6.9" font-weight="bold" stroke="#000" stroke-width="0.16" text-anchor="end" textLength="13.8" lengthAdjust="spacingAndGlyphs">0.15</text>
<path d="M159.05 545.64L162.20 545.64" stroke="#000" stroke-width="1.105" fill="none"/>
<text x="158.05" y="548.12" font-size="6.9" font-weight="bold" stroke="#000" stroke-width="0.16" text-anchor="end" textLength="13.8" lengthAdjust="spacingAndGlyphs">0.20</text>
<path d="M159.05 530.92L162.20 530.92" stroke="#000" stroke-width="1.105" fill="none"/>
<text x="158.05" y="533.41" font-size="6.9" font-weight="bold" stroke="#000" stroke-width="0.16" text-anchor="end" textLength="13.8" lengthAdjust="spacingAndGlyphs">0.25</text>
<path d="M159.05 516.21L162.20 516.21" stroke="#000" stroke-width="1.105" fill="none"/>
<text x="158.05" y="518.69" font-size="6.9" font-weight="bold" stroke="#000" stroke-width="0.16" text-anchor="end" textLength="13.8" lengthAdjust="spacingAndGlyphs">0.30</text>
<path d="M159.05 501.50L162.20 501.50" stroke="#000" stroke-width="1.105" fill="none"/>
<text x="158.05" y="503.98" font-size="6.9" font-weight="bold" stroke="#000" stroke-width="0.16" text-anchor="end" textLength="13.8" lengthAdjust="spacingAndGlyphs">0.35</text>
<path d="M174.50 604.50L174.50 607.65" stroke="#000" stroke-width="1.105" fill="none"/>
<path d="M198.75 604.50L198.75 607.65" stroke="#000" stroke-width="1.105" fill="none"/>
<path d="M174.62 510.75L174.62 515.75" stroke="#000" stroke-width="1.2" fill="none"/>
<path d="M170.47 510.75L178.78 510.75" stroke="#000" stroke-width="1.2" fill="none"/>
<rect x="166.25" y="515.25" width="16.75" height="89.25" fill="#000"/>
<path d="M198.75 510.00L198.75 515.50" stroke="#000" stroke-width="1.2" fill="none"/>
<path d="M194.60 510.00L202.90 510.00" stroke="#000" stroke-width="1.2" fill="none"/>
<rect x="191.10" y="515.60" width="15.30" height="88.90" fill="#dcdcdc" stroke="#000" stroke-width="1.2"/>
<text x="140.40" y="616.50" font-size="7.8" font-weight="bold" stroke="#000" stroke-width="0.16" transform="rotate(-90 140.40 616.50)" textLength="127.5" lengthAdjust="spacingAndGlyphs">Spleen weight/Body weight (%)</text>
<text x="177.70" y="612.20" font-size="7.3" font-weight="bold" stroke="#000" stroke-width="0.16" text-anchor="end" transform="rotate(-45 177.70 612.20)" textLength="40.0" lengthAdjust="spacingAndGlyphs">Cxcl12-WT</text>
<text x="202.30" y="612.20" font-size="7.3" font-weight="bold" stroke="#000" stroke-width="0.16" text-anchor="end" transform="rotate(-45 202.30 612.20)" textLength="45.0" lengthAdjust="spacingAndGlyphs">Cxcl12-cKO</text>
<path d="M248.70 512.10L248.70 607.15" stroke="#000" stroke-width="1.3" fill="none"/>
<path d="M248.05 606.50L308.75 606.50" stroke="#000" stroke-width="1.3" fill="none"/>
<path d="M245.55 606.50L248.70 606.50" stroke="#000" stroke-width="1.105" fill="none"/>
<text x="244.55" y="608.77" font-size="6.3" font-weight="bold" stroke="#000" stroke-width="0.16" text-anchor="end">0</text>
<path d="M245.55 593.10L248.70 593.10" stroke="#000" stroke-width="1.105" fill="none"/>
<text x="244.55" y="595.37" font-size="6.3" font-weight="bold" stroke="#000" stroke-width="0.16" text-anchor="end">50</text>
<path d="M245.55 579.70L248.70 579.70" stroke="#000" stroke-width="1.105" fill="none"/>
<text x="244.55" y="581.97" font-size="6.3" font-weight="bold" stroke="#000" stroke-width="0.16" text-anchor="end">100</text>
<path d="M245.55 566.30L248.70 566.30" stroke="#000" stroke-width="1.105" fill="none"/>
<text x="244.55" y="568.57" font-size="6.3" font-weight="bold" stroke="#000" stroke-width="0.16" text-anchor="end">150</text>
<path d="M245.55 552.90L248.70 552.90" stroke="#000" stroke-width="1.105" fill="none"/>
<text x="244.55" y="555.17" font-size="6.3" font-weight="bold" stroke="#000" stroke-width="0.16" text-anchor="end">200</text>
<path d="M245.55 539.50L248.70 539.50" stroke="#000" stroke-width="1.105" fill="none"/>
<text x="244.55" y="541.77" font-size="6.3" font-weight="bold" stroke="#000" stroke-width="0.16" text-anchor="end">250</text>
<path d="M245.55 526.10L248.70 526.10" stroke="#000" stroke-width="1.105" fill="none"/>
<text x="244.55" y="528.37" font-size="6.3" font-weight="bold" stroke="#000" stroke-width="0.16" text-anchor="end">300</text>
<path d="M245.55 512.70L248.70 512.70" stroke="#000" stroke-width="1.105" fill="none"/>
<text x="244.55" y="514.97" font-size="6.3" font-weight="bold" stroke="#000" stroke-width="0.16" text-anchor="end">350</text>
<path d="M263.75 606.50L263.75 609.65" stroke="#000" stroke-width="1.105" fill="none"/>
<path d="M293.75 606.50L293.75 609.65" stroke="#000" stroke-width="1.105" fill="none"/>
<path d="M263.62 591.20L263.62 593.00" stroke="#000" stroke-width="1.2" fill="none"/>
<path d="M258.38 591.20L268.88 591.20" stroke="#000" stroke-width="1.2" fill="none"/>
<rect x="253.00" y="592.50" width="21.25" height="14.00" fill="#000"/>
<path d="M293.75 521.50L293.75 535.25" stroke="#000" stroke-width="1.2" fill="none"/>
<path d="M288.50 521.50L299.00 521.50" stroke="#000" stroke-width="1.2" fill="none"/>
<rect x="283.85" y="535.35" width="19.80" height="71.15" fill="#dcdcdc" stroke="#000" stroke-width="1.2"/>
<path d="M262.00 515.00L294.50 515.00" stroke="#000" stroke-width="3" fill="none"/>
<text x="279.50" y="516.42" font-size="12" font-weight="bold" text-anchor="middle">*</text>
<text x="230.20" y="611.30" font-size="7.0" font-weight="bold" stroke="#000" stroke-width="0.16" transform="rotate(-90 230.20 611.30)" textLength="104.5" lengthAdjust="spacingAndGlyphs">LSK cells in 10<tspan dy="-2.80" font-size="4.76">6</tspan><tspan dy="2.80"> spleen cells</tspan></text>
<text x="266.00" y="611.80" font-size="6.6" font-weight="bold" stroke="#000" stroke-width="0.16" text-anchor="end" transform="rotate(-45 266.00 611.80)" textLength="36.0" lengthAdjust="spacingAndGlyphs">Cxcl12-WT</text>
<text x="296.50" y="611.80" font-size="6.6" font-weight="bold" stroke="#000" stroke-width="0.16" text-anchor="end" transform="rotate(-45 296.50 611.80)" textLength="41.0" lengthAdjust="spacingAndGlyphs">Cxcl12-cKO</text>
<path d="M340.75 520.35L340.75 606.65" stroke="#000" stroke-width="1.3" fill="none"/>
<path d="M340.10 606.00L396.25 606.00" stroke="#000" stroke-width="1.3" fill="none"/>
<path d="M338.10 606.00L340.75 606.00" stroke="#000" stroke-width="1.105" fill="none"/>
<text x="337.50" y="608.27" font-size="6.3" font-weight="bold" stroke="#000" stroke-width="0.16" text-anchor="end">0</text>
<path d="M338.10 589.00L340.75 589.00" stroke="#000" stroke-width="1.105" fill="none"/>
<text x="337.50" y="591.27" font-size="6.3" font-weight="bold" stroke="#000" stroke-width="0.16" text-anchor="end">10</text>
<path d="M338.10 572.00L340.75 572.00" stroke="#000" stroke-width="1.105" fill="none"/>
<text x="337.50" y="574.27" font-size="6.3" font-weight="bold" stroke="#000" stroke-width="0.16" text-anchor="end">20</text>
<path d="M338.10 555.00L340.75 555.00" stroke="#000" stroke-width="1.105" fill="none"/>
<text x="337.50" y="557.27" font-size="6.3" font-weight="bold" stroke="#000" stroke-width="0.16" text-anchor="end">30</text>
<path d="M338.10 538.00L340.75 538.00" stroke="#000" stroke-width="1.105" fill="none"/>
<text x="337.50" y="540.27" font-size="6.3" font-weight="bold" stroke="#000" stroke-width="0.16" text-anchor="end">40</text>
<path d="M338.10 521.00L340.75 521.00" stroke="#000" stroke-width="1.105" fill="none"/>
<text x="337.50" y="523.27" font-size="6.3" font-weight="bold" stroke="#000" stroke-width="0.16" text-anchor="end">50</text>
<path d="M353.75 606.00L353.75 608.65" stroke="#000" stroke-width="1.105" fill="none"/>
<path d="M381.25 606.00L381.25 608.65" stroke="#000" stroke-width="1.105" fill="none"/>
<path d="M353.75 598.50L353.75 601.50" stroke="#000" stroke-width="1.2" fill="none"/>
<path d="M349.00 598.50L358.50 598.50" stroke="#000" stroke-width="1.2" fill="none"/>
<rect x="344.25" y="601.00" width="19.00" height="5.00" fill="#000"/>
<path d="M381.25 526.00L381.25 544.50" stroke="#000" stroke-width="1.2" fill="none"/>
<path d="M376.50 526.00L386.00 526.00" stroke="#000" stroke-width="1.2" fill="none"/>
<rect x="372.60" y="544.60" width="17.30" height="61.40" fill="#dcdcdc" stroke="#000" stroke-width="1.2"/>
<path d="M354.25 520.00L383.00 520.00" stroke="#000" stroke-width="3" fill="none"/>
<text x="369.80" y="521.42" font-size="12" font-weight="bold" text-anchor="middle">*</text>
<text x="325.20" y="607.75" font-size="6.3" font-weight="bold" stroke="#000" stroke-width="0.16" transform="rotate(-90 325.20 607.75)" textLength="90.0" lengthAdjust="spacingAndGlyphs">CFU-C per 10<tspan dy="-2.52" font-size="4.28">5</tspan><tspan dy="2.52"> splenocytes</tspan></text>
<text x="357.20" y="611.50" font-size="5.4" font-weight="bold" stroke="#000" stroke-width="0.16" text-anchor="end" transform="rotate(-45 357.20 611.50)" textLength="33.0" lengthAdjust="spacingAndGlyphs">Cxcl12-WT</text>
<text x="385.30" y="611.50" font-size="5.4" font-weight="bold" stroke="#000" stroke-width="0.16" text-anchor="end" transform="rotate(-45 385.30 611.50)" textLength="37.0" lengthAdjust="spacingAndGlyphs">Cxcl12-cKO</text>
</g>
<g filter="url(#soft)">
<text x="194.60" y="38.70" font-size="8.0" text-anchor="middle" textLength="18.3" lengthAdjust="spacingAndGlyphs" fill="#141414">Bone</text>
<text x="194.60" y="48.00" font-size="8.0" text-anchor="middle" textLength="26.5" lengthAdjust="spacingAndGlyphs" fill="#141414">marrow</text>
<text x="151.20" y="101.00" font-size="7.8" transform="rotate(-90 151.20 101.00)" textLength="27.5" lengthAdjust="spacingAndGlyphs" fill="#141414">Lineage</text>
<text x="169.80" y="126.80" font-size="8.1" textLength="55.0" lengthAdjust="spacingAndGlyphs" fill="#141414">Foward Scatter</text>
<path d="M149.8 108.5V124.8H164.8" stroke="#000" stroke-width="1.45" fill="none" stroke-linejoin="miter"/>
<path d="M149.8 106.5l-1.5 3.2h3z M166.8 124.8l-3.2 -1.5v3z" fill="#000"/>
<path d="M167.50 51.50L167.50 113.00" stroke="#888" stroke-width="0.6" fill="none"/>
<path d="M167.50 112.80L229.00 112.80" stroke="#888" stroke-width="0.6" fill="none"/>
<path d="M185.00 60.00L185.00 112.80" stroke="#777" stroke-width="0.5" fill="none"/>
<text x="168.30" y="118.90" font-size="3.3" font-weight="bold" stroke="#333" stroke-width="0.16" text-anchor="middle" fill="#333">0</text>
<text x="179.80" y="118.90" font-size="3.3" font-weight="bold" stroke="#333" stroke-width="0.16" text-anchor="middle" fill="#333">200</text>
<text x="191.30" y="118.90" font-size="3.3" font-weight="bold" stroke="#333" stroke-width="0.16" text-anchor="middle" fill="#333">400</text>
<text x="203.00" y="118.90" font-size="3.3" font-weight="bold" stroke="#333" stroke-width="0.16" text-anchor="middle" fill="#333">600</text>
<text x="215.00" y="118.90" font-size="3.3" font-weight="bold" stroke="#333" stroke-width="0.16" text-anchor="middle" fill="#333">800</text>
<text x="226.50" y="118.90" font-size="3.3" font-weight="bold" stroke="#333" stroke-width="0.16" text-anchor="middle" fill="#333">1000</text>
<text x="162.60" y="69.00" font-size="3.3" font-weight="bold" stroke="#333" stroke-width="0.16" text-anchor="middle" fill="#333">10<tspan dy="-1.32" font-size="2.24">3</tspan><tspan dy="1.32"></tspan></text>
<text x="162.60" y="83.70" font-size="3.3" font-weight="bold" stroke="#333" stroke-width="0.16" text-anchor="middle" fill="#333">10<tspan dy="-1.32" font-size="2.24">2</tspan><tspan dy="1.32"></tspan></text>
<text x="162.60" y="100.20" font-size="3.3" font-weight="bold" stroke="#333" stroke-width="0.16" text-anchor="middle" fill="#333">10<tspan dy="-1.32" font-size="2.24">1</tspan><tspan dy="1.32"></tspan></text>
<text x="162.60" y="114.80" font-size="3.3" font-weight="bold" stroke="#333" stroke-width="0.16" text-anchor="middle" fill="#333">10<tspan dy="-1.32" font-size="2.24">0</tspan><tspan dy="1.32"></tspan></text>
<path transform="translate(185.20 51.85) scale(0.5)" d="M43 14h45M25 16h63M17 18h71M12 20h76M8 22h80M6 24h82M3 26h85M1 28h87M0 30h88M0 32h88M0 34h88M0 36h88M0 38h88M0 40h88M0 42h88M0 44h88M0 46h88M0 48h88M0 50h88M0 52h88M0 54h88M0 56h88M0 58h88M0 60h88M0 62h88M0 64h88M0 66h88M0 68h88M0 70h88M0 72h88M5 74h83M13 76h75M18 78h70M22 80h66M27 82h46M33 84h25" stroke="#000" stroke-width="2.6" fill="none"/>
<path transform="translate(185.20 51.85) scale(0.5)" d="M47 0h1M60 0h1M69 0h1M73 0h1M83 1h1M39 2h1M43 2h1M63 2h2M69 2h2M24 3h1M36 3h1M39 3h1M46 3h1M52 3h2M56 3h1M65 3h1M69 3h1M83 3h2M26 4h1M45 4h1M62 4h1M67 4h1M70 4h1M74 4h1M14 5h1M27 5h1M29 5h1M38 5h1M40 5h1M47 5h3M54 5h1M56 5h1M60 5h1M62 5h2M69 5h1M72 5h1M77 5h1M84 5h1M28 6h1M30 6h2M39 6h1M42 6h1M44 6h3M55 6h2M58 6h1M60 6h2M63 6h5M69 6h2M73 6h9M83 6h5M24 7h1M28 7h2M33 7h3M40 7h1M42 7h7M50 7h4M56 7h1M59 7h2M62 7h1M64 7h1M67 7h1M69 7h6M76 7h1M78 7h6M85 7h3M18 8h1M21 8h2M24 8h1M28 8h1M32 8h11M44 8h8M53 8h8M62 8h1M64 8h3M68 8h3M72 8h1M74 8h14M8 9h1M20 9h4M25 9h10M36 9h8M45 9h4M50 9h17M68 9h3M73 9h1M75 9h6M82 9h1M84 9h1M87 9h1M5 10h1M14 10h1M16 10h2M19 10h3M23 10h4M28 10h6M35 10h24M60 10h10M71 10h3M75 10h13M11 11h1M15 11h1M17 11h1M19 11h6M26 11h3M31 11h9M41 11h3M45 11h13M59 11h29M10 12h1M13 12h2M16 12h5M22 12h2M25 12h39M65 12h23M7 13h1M15 13h1M18 13h4M23 13h65M10 14h1M13 14h3M17 14h26M2 15h1M8 15h4M13 15h5M19 15h12M4 16h1M6 16h4M11 16h5M17 16h8M3 17h1M5 17h3M9 17h4M14 17h6M3 18h1M6 18h2M9 18h8M0 19h2M3 19h2M6 19h8M3 20h9M1 21h9M1 22h7M0 23h7M0 24h6M0 25h4M1 26h2M0 27h2M0 28h1M0 74h5M0 75h10M0 76h13M0 77h15M0 78h18M0 79h20M0 80h8M9 80h5M15 80h7M0 81h9M10 81h4M15 81h1M17 81h7M1 82h1M3 82h2M6 82h1M8 82h19M73 82h15M0 83h2M3 83h2M6 83h1M11 83h7M19 83h3M23 83h6M64 83h24M0 84h3M4 84h2M8 84h1M10 84h23M58 84h17M76 84h12M4 85h1M6 85h1M9 85h2M13 85h5M20 85h8M29 85h8M52 85h12M66 85h22M6 86h1M8 86h2M11 86h2M16 86h1M19 86h30M50 86h10M61 86h4M66 86h22M0 87h1M4 87h1M7 87h1M11 87h3M15 87h4M20 87h2M23 87h6M30 87h30M61 87h2M64 87h1M66 87h2M69 87h19M0 88h1M2 88h2M7 88h1M13 88h5M21 88h14M36 88h23M60 88h5M67 88h10M78 88h2M81 88h1M83 88h5M0 89h1M6 89h1M10 89h1M13 89h3M17 89h2M20 89h8M29 89h7M37 89h26M64 89h20M85 89h3M3 90h1M14 90h2M17 90h1M21 90h1M23 90h3M27 90h13M41 90h6M48 90h10M59 90h2M62 90h15M78 90h3M84 90h4M0 91h2M9 91h1M21 91h1M23 91h2M28 91h1M30 91h2M33 91h6M40 91h10M51 91h8M61 91h4M66 91h4M71 91h4M79 91h2M82 91h1M84 91h2M87 91h1M0 92h1M8 92h1M10 92h2M14 92h1M20 92h1M23 92h2M27 92h1M30 92h6M37 92h2M40 92h3M44 92h6M53 92h3M57 92h3M61 92h8M70 92h2M73 92h1M75 92h1M77 92h2M81 92h6M6 93h4M20 93h1M24 93h2M27 93h1M29 93h1M32 93h7M40 93h1M42 93h2M46 93h3M50 93h1M53 93h3M58 93h1M61 93h2M64 93h3M70 93h1M72 93h1M74 93h1M84 93h2M3 94h3M7 94h1M11 94h1M14 94h1M17 94h1M21 94h2M27 94h1M29 94h1M31 94h1M33 94h7M41 94h1M43 94h4M48 94h1M50 94h7M58 94h1M60 94h2M63 94h1M69 94h1M72 94h2M78 94h1M80 94h1M83 94h2M87 94h1M15 95h1M18 95h1M20 95h1M23 95h1M26 95h2M30 95h1M32 95h1M35 95h2M38 95h5M45 95h2M48 95h4M53 95h1M57 95h3M61 95h1M65 95h2M68 95h1M75 95h1M77 95h1M81 95h1M83 95h2M86 95h2M2 96h2M8 96h1M14 96h1M16 96h1M18 96h1M20 96h1M22 96h1M26 96h1M28 96h1M30 96h4M35 96h5M41 96h7M49 96h1M51 96h1M53 96h1M55 96h1M58 96h1M60 96h4M65 96h1M67 96h1M69 96h1M73 96h1M76 96h1M80 96h1M82 96h1M85 96h1M3 97h1M10 97h1M13 97h1M22 97h2M33 97h7M42 97h6M50 97h2M53 97h1M55 97h3M63 97h2M66 97h2M72 97h2M75 97h1M77 97h2M86 97h1M4 98h1M6 98h1M15 98h1M19 98h1M23 98h1M26 98h1M28 98h2M31 98h1M33 98h11M46 98h2M49 98h1M51 98h3M60 98h2M63 98h1M66 98h1M72 98h1M78 98h2M85 98h1M7 99h1M30 99h2M34 99h5M41 99h3M46 99h6M53 99h1M55 99h1M58 99h2M61 99h1M66 99h4M75 99h2M78 99h2M81 99h3M13 100h1M25 100h2M30 100h2M33 100h1M36 100h2M39 100h2M42 100h2M45 100h1M47 100h4M53 100h1M56 100h1M59 100h2M64 100h1M66 100h2M69 100h1M72 100h1M74 100h2M77 100h4M84 100h1M86 100h1M4 101h1M13 101h2M21 101h1M24 101h1M27 101h1M32 101h3M37 101h7M45 101h1M47 101h3M51 101h1M57 101h2M61 101h1M64 101h6M71 101h1M75 101h1M77 101h2M87 101h1M13 102h1M15 102h1M25 102h1M27 102h1M29 102h3M35 102h4M40 102h9M51 102h2M54 102h2M57 102h1M59 102h1M61 102h2M64 102h1M67 102h2M70 102h1M72 102h1M74 102h4M80 102h2M83 102h1M86 102h1M3 103h1M5 103h2M13 103h1M15 103h1M21 103h1M25 103h1M29 103h5M35 103h3M40 103h2M43 103h3M47 103h1M50 103h3M55 103h1M57 103h1M60 103h2M66 103h2M73 103h1M75 103h1M78 103h1M83 103h1M87 103h1M15 104h1M18 104h1M25 104h3M30 104h2M33 104h2M37 104h1M39 104h6M46 104h2M49 104h1M53 104h1M57 104h1M60 104h1M66 104h3M75 104h1M77 104h1M83 104h1M87 104h1M3 105h1M16 105h1M29 105h3M33 105h1M36 105h1M38 105h1M40 105h2M43 105h9M55 105h1M58 105h1M60 105h2M66 105h1M69 105h1M71 105h1M75 105h1M77 105h1M80 105h1M83 105h1M85 105h1M87 105h1M0 106h1M15 106h1M27 106h1M31 106h1M34 106h1M39 106h2M44 106h2M47 106h3M51 106h1M54 106h1M61 106h4M68 106h6M75 106h3M9 107h2M22 107h1M27 107h1M30 107h7M39 107h1M41 107h5M48 107h1M52 107h1M55 107h1M59 107h1M61 107h1M63 107h1M66 107h1M68 107h1M70 107h1M72 107h1M79 107h1M83 107h1M86 107h2M28 108h2M34 108h3M38 108h2M42 108h1M46 108h1M48 108h1M50 108h2M53 108h1M58 108h1M66 108h1M69 108h3M76 108h1M79 108h1M84 108h1M4 109h1M20 109h1M22 109h1M24 109h1M31 109h1M34 109h3M38 109h3M42 109h1M46 109h1M51 109h1M65 109h1M69 109h1M71 109h1M75 109h1M84 109h2M20 110h1M22 110h1M32 110h3M36 110h1M38 110h2M41 110h1M46 110h1M49 110h4M56 110h1M60 110h1M64 110h1M67 110h1M81 110h1M83 110h2M13 111h1M19 111h2M29 111h2M36 111h1M39 111h1M44 111h1M47 111h1M51 111h1M54 111h1M56 111h2M61 111h1M64 111h1M71 111h1M73 111h1M82 111h1M8 112h1M29 112h2M33 112h1M37 112h1M40 112h1M47 112h1M50 112h2M53 112h1M55 112h1M63 112h1M65 112h1M70 112h1M72 112h2M77 112h1M79 112h1M1 113h1M11 113h1M25 113h1M27 113h1M32 113h1M41 113h1M44 113h1M46 113h1M49 113h1M53 113h1M60 113h1M64 113h1M68 113h1M70 113h1M72 113h1M81 113h1M85 113h1M87 113h1M20 114h2M30 114h1M36 114h1M40 114h1M50 114h1M58 114h1M75 114h1M78 114h1M82 114h1M84 114h2M3 115h3M28 115h1M33 115h1M35 115h1M37 115h1M39 115h1M45 115h1M73 115h1M12 116h1M20 116h1M28 116h1M38 116h1M47 116h2M61 116h1M77 116h1M81 116h1M15 117h1M28 117h1M32 117h1M36 117h1M50 117h1M52 117h1M61 117h3M85 117h1M4 118h1M16 118h1M26 118h1M40 118h1M45 118h1M50 118h1M53 118h1M59 118h3M67 118h2M71 118h1M75 118h1M78 118h1M80 118h2M85 118h2M20 119h1M29 119h1M43 119h2M60 119h1M81 119h2M86 119h1M23 120h1M35 120h1M49 120h1M59 120h1M72 120h1M76 120h1M27 121h1M31 121h1M33 121h1M48 121h1M73 121h1M75 121h1M86 121h1" stroke="#000" stroke-width="1.4" fill="none"/>
<clipPath id="cB1"><rect x="185" y="51.5" width="44" height="61.2"/></clipPath>
<g clip-path="url(#cB1)">
<path d="M187.6 77 C187.6 72 189.5 67.5 193 63.5 C196 60.3 200 58.6 204.5 59 C209 59.6 212 63 213.3 68.5 C214.3 74 214 81 212.3 85.5 C210.5 89.5 207 91.3 203.5 90.3 C201 89.3 199.5 88.5 197.5 89.8 C195 91.8 191.5 92 189.5 89.8 C187.8 87 187.4 82 187.6 77 Z" fill="#6e6e6e" stroke="#6e6e6e" stroke-width="2.4" filter="url(#b1)"/>
<path d="M187.6 77 C187.6 72 189.5 67.5 193 63.5 C196 60.3 200 58.6 204.5 59 C209 59.6 212 63 213.3 68.5 C214.3 74 214 81 212.3 85.5 C210.5 89.5 207 91.3 203.5 90.3 C201 89.3 199.5 88.5 197.5 89.8 C195 91.8 191.5 92 189.5 89.8 C187.8 87 187.4 82 187.6 77 Z" fill="#a6a6a6" filter="url(#b1)"/>
<ellipse cx="192.2" cy="81" rx="3.1" ry="7.2" fill="#c4c4c4" filter="url(#b1)"/>
<ellipse cx="202" cy="73" rx="4.6" ry="11.5" fill="#c2c2c2" filter="url(#b1)"/>
<ellipse cx="202" cy="73.5" rx="3.0" ry="9" fill="none" stroke="#dedede" stroke-width="0.9" filter="url(#b05)"/>
<ellipse cx="201.6" cy="73" rx="1.2" ry="2.7" fill="#4c4c4c" filter="url(#b05)"/>
<ellipse cx="191.5" cy="83" rx="0.7" ry="1.2" fill="#8a8a8a" filter="url(#b05)"/>
<path d="M216 62 C220 60.5 224 62 224 66 C223 69.5 219 70.5 216 69 Z" fill="#3a3a3a" filter="url(#b1)" opacity="0.5"/>
<path d="M221 82 C225 79 229 79 231 79 L231 96 C227 97 223 96 220.5 92 Z" fill="#6a6a6a" filter="url(#b1)" opacity="0.45"/>
</g>
<rect x="208.50" y="98.50" width="13.80" height="6.10" fill="#fff" stroke="#555" stroke-width="0.5"/>
<text x="215.40" y="103.30" font-size="3.6" font-weight="bold" stroke="#222" stroke-width="0.16" text-anchor="middle" fill="#222">1.17</text>
<path d="M224.6 103.5H234.0" stroke="#000" stroke-width="1.3" fill="none"/>
<path d="M236.0 103.5l-3 -1.5v3z" fill="#000"/>
<text x="286.40" y="48.70" font-size="7.3" text-anchor="middle" textLength="35.5" lengthAdjust="spacingAndGlyphs" fill="#141414">Cxcl12-WT</text>
<text x="245.50" y="102.00" font-size="8.2" transform="rotate(-90 245.50 102.00)" textLength="17.5" lengthAdjust="spacingAndGlyphs" fill="#141414">c-Kit</text>
<text x="263.60" y="127.10" font-size="7.6" textLength="20.2" lengthAdjust="spacingAndGlyphs" fill="#141414">Sca-1</text>
<path d="M242.7 108.5V125.2H257.8" stroke="#000" stroke-width="1.45" fill="none" stroke-linejoin="miter"/>
<path d="M242.7 106.5l-1.5 3.2h3z M259.8 125.2l-3.2 -1.5v3z" fill="#000"/>
<path d="M255.40 51.60L255.40 113.00" stroke="#888" stroke-width="0.6" fill="none"/>
<path d="M255.40 112.80L316.30 112.80" stroke="#888" stroke-width="0.6" fill="none"/>
<text x="251.00" y="69.30" font-size="3.3" font-weight="bold" stroke="#333" stroke-width="0.16" text-anchor="middle" fill="#333">10<tspan dy="-1.32" font-size="2.24">3</tspan><tspan dy="1.32"></tspan></text>
<text x="251.00" y="83.80" font-size="3.3" font-weight="bold" stroke="#333" stroke-width="0.16" text-anchor="middle" fill="#333">10<tspan dy="-1.32" font-size="2.24">2</tspan><tspan dy="1.32"></tspan></text>
<text x="251.00" y="99.60" font-size="3.3" font-weight="bold" stroke="#333" stroke-width="0.16" text-anchor="middle" fill="#333">10<tspan dy="-1.32" font-size="2.24">1</tspan><tspan dy="1.32"></tspan></text>
<text x="251.00" y="114.60" font-size="3.3" font-weight="bold" stroke="#333" stroke-width="0.16" text-anchor="middle" fill="#333">10<tspan dy="-1.32" font-size="2.24">0</tspan><tspan dy="1.32"></tspan></text>
<text x="255.50" y="120.20" font-size="3.3" font-weight="bold" stroke="#333" stroke-width="0.16" text-anchor="middle" fill="#333">10<tspan dy="-1.32" font-size="2.24">0</tspan><tspan dy="1.32"></tspan></text>
<text x="270.80" y="120.20" font-size="3.3" font-weight="bold" stroke="#333" stroke-width="0.16" text-anchor="middle" fill="#333">10<tspan dy="-1.32" font-size="2.24">1</tspan><tspan dy="1.32"></tspan></text>
<text x="286.30" y="120.20" font-size="3.3" font-weight="bold" stroke="#333" stroke-width="0.16" text-anchor="middle" fill="#333">10<tspan dy="-1.32" font-size="2.24">2</tspan><tspan dy="1.32"></tspan></text>
<text x="301.30" y="120.20" font-size="3.3" font-weight="bold" stroke="#333" stroke-width="0.16" text-anchor="middle" fill="#333">10<tspan dy="-1.32" font-size="2.24">3</tspan><tspan dy="1.32"></tspan></text>
<path transform="translate(255.80 52.05) scale(0.5)" d="M65 36h1M59 37h1M74 37h1M100 38h1M9 42h1M37 42h1M40 42h1M43 42h1M57 42h1M35 43h1M54 43h1M57 43h1M62 43h1M53 44h1M82 44h1M0 45h1M11 45h1M26 45h1M31 45h1M73 45h1M78 45h1M92 45h1M109 45h1M113 45h1M0 46h1M2 46h1M27 46h1M29 46h1M32 46h2M42 46h1M46 46h1M51 46h1M0 47h2M6 47h2M13 47h1M15 47h1M22 47h3M27 47h1M29 47h1M31 47h1M34 47h1M46 47h1M48 47h1M55 47h2M69 47h2M79 47h1M81 47h2M99 47h1M2 48h1M6 48h3M11 48h1M14 48h1M17 48h3M22 48h1M24 48h3M39 48h1M43 48h1M45 48h1M49 48h1M53 48h2M58 48h1M60 48h1M63 48h1M66 48h1M69 48h1M75 48h1M77 48h2M80 48h1M84 48h1M88 48h1M103 48h2M0 49h4M5 49h1M7 49h2M14 49h1M17 49h3M21 49h3M26 49h1M29 49h1M31 49h2M34 49h2M39 49h2M44 49h1M46 49h1M48 49h3M52 49h3M57 49h2M60 49h1M68 49h2M71 49h1M90 49h1M94 49h1M97 49h1M100 49h1M103 49h1M1 50h1M3 50h3M7 50h5M14 50h1M16 50h5M22 50h1M24 50h1M26 50h2M32 50h4M38 50h1M40 50h6M47 50h1M52 50h1M54 50h1M58 50h3M63 50h2M66 50h1M68 50h2M72 50h1M74 50h1M78 50h3M86 50h1M88 50h1M90 50h1M92 50h1M96 50h1M0 51h3M4 51h3M9 51h1M11 51h6M20 51h3M24 51h5M30 51h5M36 51h1M39 51h1M42 51h7M53 51h8M62 51h5M68 51h2M71 51h1M73 51h1M76 51h2M80 51h2M89 51h1M94 51h1M99 51h1M102 51h1M0 52h6M7 52h4M12 52h5M18 52h11M30 52h5M36 52h1M38 52h14M53 52h8M63 52h1M66 52h1M68 52h1M70 52h1M73 52h1M78 52h1M87 52h2M91 52h1M97 52h1M104 52h1M106 52h2M112 52h1M115 52h2M0 53h1M2 53h4M8 53h1M10 53h2M14 53h8M23 53h3M27 53h1M29 53h4M34 53h1M36 53h2M39 53h4M44 53h2M47 53h2M50 53h1M52 53h2M56 53h7M64 53h2M67 53h2M73 53h1M75 53h3M81 53h1M83 53h1M88 53h2M93 53h1M106 53h1M112 53h1M114 53h1M0 54h2M3 54h6M11 54h4M16 54h11M28 54h3M32 54h19M52 54h4M57 54h2M61 54h4M66 54h1M69 54h3M73 54h2M77 54h7M85 54h1M89 54h1M94 54h1M97 54h2M100 54h1M104 54h1M109 54h2M1 55h5M8 55h6M15 55h6M22 55h17M40 55h2M43 55h1M45 55h2M49 55h1M51 55h1M53 55h1M55 55h2M58 55h4M63 55h7M71 55h7M84 55h1M86 55h1M89 55h1M92 55h1M97 55h2M101 55h1M106 55h1M2 56h8M11 56h4M16 56h2M19 56h5M25 56h5M31 56h1M33 56h21M58 56h1M60 56h1M63 56h3M68 56h3M74 56h1M77 56h1M79 56h3M88 56h1M91 56h2M100 56h1M116 56h1M1 57h1M3 57h4M8 57h1M10 57h9M20 57h6M28 57h7M36 57h2M40 57h4M45 57h9M56 57h1M59 57h7M67 57h1M69 57h1M72 57h2M77 57h1M83 57h1M85 57h1M87 57h2M93 57h2M99 57h1M105 57h1M109 57h1M114 57h1M1 58h8M10 58h6M17 58h9M27 58h3M31 58h9M41 58h1M43 58h2M47 58h2M51 58h6M61 58h1M63 58h2M66 58h4M73 58h1M75 58h2M78 58h1M81 58h2M88 58h2M93 58h1M100 58h1M103 58h2M120 58h1M0 59h9M10 59h2M13 59h3M17 59h2M20 59h2M23 59h5M29 59h8M38 59h2M41 59h3M45 59h4M50 59h1M52 59h3M56 59h4M62 59h4M67 59h1M69 59h1M71 59h3M75 59h2M78 59h2M81 59h1M84 59h3M88 59h1M91 59h1M98 59h1M101 59h1M103 59h2M115 59h2M120 59h1M0 60h1M2 60h1M4 60h6M11 60h12M26 60h7M34 60h2M37 60h5M43 60h2M46 60h15M62 60h2M65 60h4M70 60h1M73 60h3M79 60h1M82 60h1M85 60h2M88 60h2M92 60h1M102 60h1M106 60h1M113 60h1M115 60h3M0 61h2M3 61h1M6 61h4M12 61h3M16 61h21M38 61h2M41 61h3M45 61h3M49 61h1M51 61h1M54 61h1M57 61h6M64 61h6M71 61h2M74 61h1M77 61h5M87 61h1M91 61h2M97 61h4M102 61h2M110 61h1M117 61h1M0 62h5M6 62h7M14 62h4M19 62h8M29 62h11M41 62h7M49 62h1M51 62h5M59 62h2M63 62h1M65 62h3M69 62h3M73 62h5M80 62h1M84 62h4M93 62h1M95 62h1M99 62h1M107 62h1M109 62h3M114 62h1M118 62h1M0 63h13M14 63h4M20 63h9M30 63h2M33 63h1M35 63h3M39 63h1M41 63h5M47 63h7M55 63h2M58 63h5M64 63h2M67 63h4M72 63h2M76 63h1M78 63h2M82 63h3M86 63h2M89 63h1M97 63h2M103 63h1M108 63h2M115 63h1M119 63h1M0 64h2M3 64h3M7 64h4M12 64h8M22 64h6M29 64h4M34 64h1M37 64h4M43 64h1M45 64h2M48 64h3M52 64h5M58 64h1M62 64h4M68 64h2M72 64h2M75 64h1M77 64h1M80 64h4M87 64h3M92 64h1M95 64h1M119 64h1M0 65h6M7 65h9M17 65h1M19 65h11M31 65h4M36 65h1M39 65h4M44 65h2M47 65h1M50 65h1M52 65h2M56 65h5M63 65h8M72 65h1M74 65h2M78 65h1M88 65h1M92 65h1M99 65h1M101 65h1M108 65h2M113 65h1M115 65h2M1 66h3M5 66h5M11 66h9M21 66h9M32 66h2M35 66h4M40 66h8M49 66h3M53 66h4M59 66h5M66 66h3M71 66h4M76 66h1M79 66h1M85 66h1M87 66h2M91 66h1M95 66h1M99 66h1M103 66h1M111 66h1M113 66h1M0 67h8M9 67h2M12 67h8M21 67h3M25 67h5M31 67h5M37 67h4M42 67h1M45 67h2M48 67h1M51 67h2M56 67h5M62 67h1M64 67h3M69 67h2M72 67h2M76 67h1M79 67h3M88 67h1M92 67h2M95 67h1M97 67h2M108 67h1M111 67h1M113 67h1M116 67h1M0 68h1M2 68h3M6 68h4M14 68h5M20 68h2M23 68h1M25 68h3M29 68h2M32 68h2M36 68h5M42 68h5M48 68h2M53 68h10M64 68h1M66 68h6M73 68h1M76 68h6M85 68h1M94 68h1M105 68h2M108 68h1M119 68h2M0 69h11M12 69h3M16 69h4M21 69h4M26 69h5M32 69h1M34 69h17M56 69h3M60 69h1M63 69h1M65 69h2M69 69h2M72 69h1M77 69h1M80 69h2M86 69h1M89 69h1M91 69h2M94 69h2M97 69h2M102 69h1M109 69h1M113 69h1M120 69h1M1 70h15M17 70h2M20 70h3M24 70h8M33 70h1M35 70h2M38 70h1M40 70h1M42 70h3M46 70h1M48 70h1M50 70h9M61 70h1M63 70h3M68 70h1M70 70h4M77 70h1M83 70h1M86 70h1M88 70h1M93 70h1M97 70h1M99 70h1M109 70h1M111 70h1M0 71h2M3 71h1M5 71h4M11 71h1M14 71h3M18 71h2M21 71h4M26 71h1M28 71h1M30 71h2M33 71h14M48 71h1M50 71h1M52 71h7M60 71h3M64 71h1M67 71h1M69 71h1M71 71h1M76 71h1M80 71h4M85 71h2M88 71h1M90 71h2M99 71h1M114 71h1M117 71h1M0 72h3M4 72h2M7 72h8M16 72h1M18 72h1M20 72h10M32 72h3M36 72h2M39 72h3M43 72h4M49 72h6M57 72h7M68 72h2M71 72h1M75 72h2M78 72h1M81 72h1M83 72h1M86 72h1M88 72h1M91 72h1M94 72h1M96 72h1M100 72h1M102 72h2M1 73h3M5 73h3M9 73h9M19 73h8M28 73h4M33 73h2M36 73h2M39 73h1M41 73h2M46 73h1M50 73h3M54 73h1M56 73h4M61 73h5M69 73h3M75 73h2M79 73h2M84 73h1M89 73h1M92 73h1M94 73h1M98 73h1M101 73h1M104 73h1M107 73h1M111 73h1M115 73h1M0 74h4M5 74h2M8 74h2M11 74h1M14 74h1M16 74h1M18 74h1M20 74h3M24 74h1M27 74h3M31 74h2M37 74h1M39 74h6M46 74h1M50 74h1M52 74h2M57 74h1M59 74h5M65 74h2M68 74h1M71 74h2M74 74h1M78 74h1M84 74h1M87 74h1M92 74h1M105 74h1M107 74h1M110 74h1M116 74h1M118 74h1M2 75h8M12 75h1M15 75h3M19 75h1M21 75h4M26 75h2M29 75h4M34 75h3M38 75h1M42 75h1M46 75h4M51 75h1M53 75h1M55 75h1M58 75h3M65 75h4M73 75h1M76 75h1M78 75h1M83 75h1M91 75h1M97 75h2M103 75h1M107 75h1M0 76h2M3 76h1M6 76h1M9 76h2M12 76h1M14 76h1M19 76h1M21 76h5M27 76h1M29 76h1M32 76h2M35 76h3M41 76h5M50 76h1M55 76h4M62 76h2M65 76h1M67 76h1M70 76h1M72 76h1M74 76h1M77 76h2M85 76h1M88 76h1M105 76h1M107 76h1M110 76h1M114 76h1M1 77h2M4 77h2M7 77h1M9 77h1M11 77h2M14 77h1M16 77h2M19 77h1M23 77h1M29 77h1M32 77h3M36 77h1M39 77h1M41 77h1M43 77h1M45 77h1M47 77h3M51 77h1M55 77h1M57 77h3M61 77h1M63 77h2M70 77h1M72 77h1M74 77h1M76 77h1M79 77h1M88 77h1M94 77h1M96 77h1M103 77h1M105 77h1M113 77h1M2 78h1M12 78h1M16 78h2M20 78h2M23 78h2M26 78h2M29 78h3M33 78h1M37 78h4M43 78h2M47 78h4M53 78h1M61 78h1M63 78h1M65 78h1M68 78h1M72 78h1M74 78h1M77 78h2M81 78h2M103 78h1M112 78h1M118 78h1M0 79h1M4 79h1M7 79h1M12 79h2M19 79h1M24 79h1M26 79h1M32 79h1M34 79h1M36 79h1M41 79h2M44 79h2M47 79h1M49 79h1M51 79h2M58 79h4M63 79h1M65 79h4M70 79h1M76 79h1M81 79h1M88 79h1M90 79h3M94 79h1M100 79h1M103 79h1M118 79h1M1 80h3M5 80h1M7 80h2M10 80h1M13 80h1M16 80h1M18 80h3M22 80h1M24 80h1M27 80h1M29 80h2M32 80h1M36 80h2M39 80h3M43 80h2M46 80h5M52 80h2M61 80h4M67 80h1M73 80h2M88 80h1M92 80h1M110 80h1M113 80h1M0 81h1M2 81h4M7 81h1M9 81h1M13 81h4M19 81h1M21 81h1M23 81h2M27 81h1M29 81h2M33 81h1M35 81h3M40 81h1M42 81h2M45 81h1M47 81h3M51 81h3M55 81h1M57 81h1M59 81h1M61 81h4M66 81h2M71 81h2M74 81h1M76 81h1M80 81h1M84 81h1M91 81h1M93 81h1M119 81h1M0 82h3M6 82h3M11 82h2M14 82h1M16 82h2M20 82h4M27 82h1M30 82h1M34 82h2M40 82h1M43 82h2M46 82h7M57 82h6M64 82h1M66 82h1M68 82h1M70 82h1M73 82h1M77 82h1M81 82h2M84 82h1M90 82h1M94 82h1M0 83h5M6 83h4M11 83h3M17 83h1M21 83h1M24 83h2M28 83h1M32 83h1M34 83h1M36 83h1M38 83h1M42 83h3M49 83h3M53 83h7M70 83h1M74 83h1M76 83h1M80 83h1M84 83h1M88 83h1M102 83h1M0 84h2M5 84h1M8 84h1M12 84h6M21 84h1M23 84h1M29 84h2M33 84h3M37 84h5M44 84h5M50 84h1M52 84h6M61 84h3M67 84h3M72 84h1M76 84h1M81 84h1M83 84h1M90 84h1M106 84h1M2 85h2M6 85h7M14 85h1M18 85h2M24 85h2M27 85h3M34 85h1M36 85h8M45 85h5M51 85h3M55 85h1M57 85h2M63 85h4M70 85h1M73 85h1M80 85h1M87 85h1M96 85h2M102 85h2M111 85h2M0 86h1M5 86h1M7 86h1M9 86h1M11 86h2M14 86h2M17 86h2M20 86h2M23 86h4M29 86h1M33 86h1M35 86h4M40 86h1M42 86h1M45 86h4M50 86h5M56 86h2M59 86h1M63 86h2M66 86h1M70 86h3M77 86h1M81 86h1M0 87h3M5 87h1M8 87h3M15 87h4M21 87h1M23 87h1M26 87h2M30 87h1M34 87h1M36 87h2M39 87h1M41 87h2M45 87h1M47 87h1M49 87h1M52 87h3M56 87h1M65 87h2M71 87h1M76 87h2M82 87h1M94 87h1M1 88h3M5 88h2M8 88h3M12 88h3M16 88h1M19 88h2M22 88h1M25 88h2M30 88h2M34 88h4M39 88h1M41 88h1M43 88h3M47 88h1M49 88h1M52 88h3M62 88h1M64 88h1M68 88h1M72 88h1M74 88h1M78 88h1M80 88h1M87 88h1M1 89h1M3 89h2M7 89h2M11 89h1M14 89h4M21 89h5M27 89h2M33 89h2M36 89h3M40 89h1M42 89h8M51 89h2M54 89h5M60 89h4M65 89h3M69 89h1M72 89h1M74 89h3M80 89h1M82 89h1M87 89h1M114 89h1M5 90h1M7 90h1M9 90h1M12 90h2M16 90h2M20 90h1M22 90h3M27 90h1M29 90h1M31 90h2M37 90h3M42 90h6M49 90h1M51 90h6M58 90h1M60 90h2M63 90h2M67 90h1M69 90h1M71 90h1M80 90h2M85 90h1M89 90h1M93 90h2M96 90h2M99 90h1M0 91h2M5 91h2M10 91h1M14 91h1M19 91h1M22 91h3M29 91h3M33 91h5M39 91h1M41 91h4M47 91h1M49 91h10M61 91h2M66 91h1M68 91h3M72 91h1M75 91h1M88 91h1M90 91h2M93 91h1M118 91h1M2 92h1M7 92h1M9 92h2M14 92h1M17 92h2M22 92h2M25 92h10M36 92h1M40 92h6M50 92h2M54 92h6M61 92h1M63 92h1M69 92h1M76 92h1M79 92h1M81 92h2M89 92h2M119 92h1M0 93h2M6 93h1M8 93h3M12 93h2M15 93h1M17 93h1M19 93h3M23 93h2M26 93h5M32 93h6M39 93h4M44 93h2M47 93h4M54 93h1M56 93h6M64 93h1M68 93h1M75 93h3M81 93h1M90 93h1M0 94h1M4 94h3M8 94h2M11 94h2M14 94h3M18 94h4M23 94h1M25 94h1M27 94h5M33 94h1M35 94h5M41 94h7M49 94h5M56 94h1M64 94h2M67 94h1M69 94h1M72 94h1M76 94h1M80 94h1M92 94h1M101 94h1M117 94h1M0 95h7M9 95h1M14 95h1M16 95h3M24 95h3M28 95h1M30 95h5M36 95h3M40 95h4M45 95h1M47 95h1M49 95h4M54 95h3M58 95h1M60 95h1M63 95h1M65 95h3M70 95h1M72 95h1M74 95h1M77 95h1M81 95h1M83 95h1M90 95h1M2 96h2M8 96h1M10 96h4M15 96h1M18 96h1M21 96h2M24 96h1M27 96h1M29 96h1M31 96h1M33 96h2M37 96h4M42 96h5M48 96h1M50 96h6M57 96h2M60 96h1M63 96h6M70 96h2M74 96h1M79 96h2M87 96h1M108 96h1M0 97h1M2 97h2M5 97h2M11 97h1M16 97h1M18 97h1M20 97h5M27 97h1M32 97h5M39 97h1M41 97h6M48 97h2M51 97h1M54 97h2M59 97h2M65 97h1M69 97h3M74 97h3M84 97h1M86 97h1M97 97h1M117 97h1M6 98h3M12 98h5M21 98h1M23 98h4M29 98h1M32 98h4M37 98h1M40 98h6M47 98h4M52 98h1M55 98h4M61 98h1M63 98h2M66 98h1M69 98h1M72 98h2M94 98h1M0 99h3M4 99h4M10 99h1M12 99h1M15 99h1M18 99h1M20 99h1M23 99h1M25 99h2M28 99h3M33 99h5M39 99h3M43 99h1M45 99h1M48 99h1M50 99h1M52 99h5M65 99h1M67 99h1M69 99h1M82 99h1M90 99h1M1 100h1M4 100h3M8 100h7M16 100h1M18 100h4M25 100h1M27 100h1M30 100h1M32 100h1M34 100h4M39 100h4M46 100h5M52 100h7M60 100h2M63 100h6M72 100h1M77 100h1M93 100h1M100 100h1M114 100h1M0 101h1M3 101h4M8 101h2M11 101h5M17 101h3M24 101h4M30 101h1M32 101h7M40 101h1M42 101h2M45 101h5M51 101h2M54 101h3M58 101h3M62 101h4M70 101h1M72 101h1M76 101h1M79 101h2M92 101h1M95 101h1M111 101h1M1 102h3M5 102h1M8 102h2M13 102h4M18 102h2M21 102h6M28 102h2M31 102h6M43 102h1M45 102h3M49 102h1M51 102h3M55 102h3M59 102h2M62 102h1M67 102h2M76 102h2M80 102h1M84 102h1M92 102h1M94 102h1M0 103h2M3 103h3M8 103h1M10 103h3M14 103h2M18 103h2M21 103h3M25 103h3M31 103h3M36 103h4M43 103h4M48 103h2M51 103h1M53 103h2M59 103h1M63 103h2M67 103h1M69 103h1M74 103h1M79 103h1M82 103h1M86 103h1M92 103h1M97 103h1M0 104h3M4 104h2M7 104h1M9 104h1M13 104h2M16 104h3M23 104h4M28 104h3M32 104h7M40 104h2M43 104h1M46 104h1M48 104h8M58 104h1M65 104h1M68 104h4M75 104h1M77 104h1M79 104h1M90 104h1M108 104h1M0 105h3M4 105h3M9 105h1M12 105h1M14 105h1M16 105h1M18 105h1M20 105h1M24 105h3M29 105h1M32 105h2M35 105h2M40 105h2M43 105h4M48 105h7M57 105h2M61 105h1M66 105h2M74 105h1M76 105h1M79 105h1M84 105h1M89 105h1M0 106h1M3 106h4M8 106h1M12 106h1M14 106h2M19 106h1M21 106h2M26 106h2M29 106h4M34 106h1M36 106h4M41 106h1M48 106h3M52 106h1M55 106h1M57 106h1M66 106h1M68 106h1M70 106h1M74 106h2M110 106h1M1 107h1M4 107h2M7 107h1M10 107h7M22 107h3M27 107h1M30 107h1M32 107h2M37 107h2M40 107h1M42 107h1M44 107h1M46 107h1M49 107h5M55 107h1M57 107h2M60 107h3M64 107h3M69 107h1M73 107h3M78 107h2M82 107h1M90 107h2M97 107h1M106 107h1M108 107h1M2 108h4M8 108h2M12 108h2M16 108h1M18 108h3M22 108h1M24 108h1M27 108h4M32 108h1M34 108h2M37 108h6M44 108h4M49 108h2M53 108h5M59 108h2M62 108h1M64 108h1M66 108h3M70 108h3M74 108h1M78 108h1M81 108h1M83 108h1M87 108h2M106 108h1M0 109h1M2 109h4M7 109h2M10 109h3M14 109h6M23 109h1M25 109h2M29 109h1M32 109h2M35 109h2M39 109h2M42 109h1M44 109h3M48 109h1M50 109h6M58 109h2M61 109h2M64 109h1M66 109h1M69 109h2M72 109h1M75 109h1M86 109h1M109 109h1M119 109h1M1 110h1M3 110h2M6 110h1M12 110h1M16 110h1M18 110h1M21 110h2M24 110h1M26 110h3M30 110h3M34 110h1M36 110h4M41 110h4M46 110h4M53 110h5M60 110h1M62 110h1M64 110h2M67 110h2M70 110h2M76 110h3M83 110h3M2 111h2M6 111h1M8 111h1M11 111h1M17 111h1M21 111h1M24 111h1M27 111h2M31 111h1M33 111h5M40 111h1M42 111h3M46 111h2M50 111h4M55 111h2M59 111h3M63 111h2M68 111h1M71 111h1M73 111h1M76 111h1M86 111h2M92 111h1M110 111h2M115 111h1M0 112h2M9 112h3M14 112h12M29 112h1M31 112h3M35 112h1M37 112h1M39 112h1M41 112h9M51 112h2M56 112h9M67 112h1M71 112h1M73 112h1M79 112h1M0 113h1M3 113h1M7 113h3M11 113h1M14 113h2M17 113h1M23 113h1M25 113h1M27 113h1M30 113h1M36 113h1M38 113h1M42 113h12M56 113h1M58 113h1M60 113h2M63 113h1M65 113h1M67 113h1M69 113h1M71 113h3M75 113h1M81 113h2M84 113h2M91 113h1M94 113h1M2 114h1M4 114h1M9 114h2M13 114h1M15 114h2M18 114h7M27 114h4M32 114h5M41 114h3M45 114h1M47 114h1M50 114h4M56 114h3M61 114h5M67 114h2M71 114h1M73 114h1M75 114h1M87 114h2M91 114h2M103 114h1M112 114h1M119 114h1M0 115h1M2 115h2M6 115h1M11 115h1M15 115h1M17 115h2M20 115h1M22 115h4M28 115h1M30 115h3M34 115h2M37 115h1M39 115h5M45 115h3M49 115h4M55 115h2M58 115h1M60 115h1M62 115h3M68 115h1M70 115h1M72 115h1M74 115h1M76 115h2M3 116h1M7 116h2M10 116h2M13 116h1M18 116h1M20 116h1M25 116h1M27 116h2M30 116h2M33 116h1M35 116h2M39 116h1M44 116h8M54 116h2M58 116h2M61 116h2M64 116h1M66 116h3M71 116h1M74 116h1M77 116h1M83 116h1M85 116h1M91 116h1M0 117h2M4 117h1M6 117h2M10 117h11M22 117h4M29 117h6M36 117h1M38 117h8M47 117h2M50 117h2M54 117h4M59 117h1M62 117h2M65 117h1M70 117h1M73 117h1M75 117h1M86 117h1M91 117h1M3 118h2M7 118h3M12 118h2M17 118h1M19 118h1M22 118h4M27 118h6M35 118h1M37 118h3M42 118h1M44 118h4M49 118h2M53 118h1M55 118h6M62 118h1M64 118h2M67 118h1M70 118h2M76 118h1M84 118h2M90 118h1M96 118h1M1 119h2M4 119h5M11 119h1M13 119h1M16 119h3M20 119h2M23 119h2M26 119h3M30 119h1M33 119h2M36 119h3M40 119h3M45 119h1M47 119h1M50 119h4M57 119h5M64 119h1M67 119h2M75 119h1M80 119h1M82 119h1M84 119h1M87 119h1M2 120h2M5 120h1M11 120h1M16 120h5M23 120h1M26 120h3M32 120h1M36 120h1M38 120h2M42 120h6M49 120h2M54 120h1M56 120h1M58 120h1M61 120h3M66 120h1M70 120h1M77 120h3M81 120h1M89 120h1M105 120h1M110 120h1M118 120h1M0 121h1M3 121h3M7 121h5M13 121h1M15 121h1M19 121h8M28 121h1M31 121h1M33 121h1M35 121h4M40 121h1M44 121h9M55 121h2M58 121h3M66 121h4M72 121h1M74 121h1M76 121h1M84 121h1M92 121h1M96 121h2M100 121h2M105 121h1" stroke="#000" stroke-width="1.4" fill="none"/>
<rect x="257.3" y="95" width="14.2" height="17" rx="5" fill="#c8c8c8" filter="url(#b1)"/><ellipse cx="264.5" cy="103.5" rx="9.5" ry="9.5" fill="#c8c8c8" filter="url(#b2)" opacity="0.7"/>
<path d="M316.3 69.4H276.5V91.4H316.3" stroke="#666" stroke-width="0.6" fill="none"/>
<text x="293.80" y="81.30" font-size="3.6" font-weight="bold" stroke="#111" stroke-width="0.16" text-anchor="middle" fill="#111">3.18</text>
<text x="365.60" y="49.00" font-size="7.3" text-anchor="middle" textLength="39.0" lengthAdjust="spacingAndGlyphs" fill="#141414">Cxcl12-cKO</text>
<text x="325.50" y="102.70" font-size="8.2" transform="rotate(-90 325.50 102.70)" textLength="17.5" lengthAdjust="spacingAndGlyphs" fill="#141414">c-Kit</text>
<text x="346.10" y="127.30" font-size="7.6" textLength="19.5" lengthAdjust="spacingAndGlyphs" fill="#141414">Sca-1</text>
<path d="M325.7 108.5V125.4H340.7" stroke="#000" stroke-width="1.45" fill="none" stroke-linejoin="miter"/>
<path d="M325.7 106.5l-1.5 3.2h3z M342.7 125.4l-3.2 -1.5v3z" fill="#000"/>
<path d="M334.60 52.00L334.60 113.00" stroke="#888" stroke-width="0.6" fill="none"/>
<path d="M334.60 112.80L395.80 112.80" stroke="#888" stroke-width="0.6" fill="none"/>
<path d="M334.60 52.00L395.80 52.00" stroke="#888" stroke-width="0.6" fill="none"/>
<text x="330.00" y="68.50" font-size="3.3" font-weight="bold" stroke="#333" stroke-width="0.16" text-anchor="middle" transform="rotate(-20 330.00 68.50)" fill="#333">10<tspan dy="-1.32" font-size="2.24">3</tspan><tspan dy="1.32"></tspan></text>
<text x="330.00" y="83.00" font-size="3.3" font-weight="bold" stroke="#333" stroke-width="0.16" text-anchor="middle" transform="rotate(-20 330.00 83.00)" fill="#333">10<tspan dy="-1.32" font-size="2.24">2</tspan><tspan dy="1.32"></tspan></text>
<text x="330.00" y="99.00" font-size="3.3" font-weight="bold" stroke="#333" stroke-width="0.16" text-anchor="middle" transform="rotate(-20 330.00 99.00)" fill="#333">10<tspan dy="-1.32" font-size="2.24">1</tspan><tspan dy="1.32"></tspan></text>
<text x="330.00" y="115.00" font-size="3.3" font-weight="bold" stroke="#333" stroke-width="0.16" text-anchor="middle" transform="rotate(-20 330.00 115.00)" fill="#333">10<tspan dy="-1.32" font-size="2.24">0</tspan><tspan dy="1.32"></tspan></text>
<text x="336.00" y="119.00" font-size="3.3" font-weight="bold" stroke="#333" stroke-width="0.16" text-anchor="middle" transform="rotate(-20 336.00 119.00)" fill="#333">10<tspan dy="-1.32" font-size="2.24">0</tspan><tspan dy="1.32"></tspan></text>
<text x="351.00" y="119.00" font-size="3.3" font-weight="bold" stroke="#333" stroke-width="0.16" text-anchor="middle" transform="rotate(-20 351.00 119.00)" fill="#333">10<tspan dy="-1.32" font-size="2.24">1</tspan><tspan dy="1.32"></tspan></text>
<text x="366.50" y="119.00" font-size="3.3" font-weight="bold" stroke="#333" stroke-width="0.16" text-anchor="middle" transform="rotate(-20 366.50 119.00)" fill="#333">10<tspan dy="-1.32" font-size="2.24">2</tspan><tspan dy="1.32"></tspan></text>
<text x="381.00" y="119.00" font-size="3.3" font-weight="bold" stroke="#333" stroke-width="0.16" text-anchor="middle" transform="rotate(-20 381.00 119.00)" fill="#333">10<tspan dy="-1.32" font-size="2.24">3</tspan><tspan dy="1.32"></tspan></text>
<path transform="translate(335.00 52.55) scale(0.5)" d="M70 37h1M6 38h1M49 38h1M75 38h1M38 39h1M43 40h1M31 41h1M98 41h1M18 42h1M24 42h1M39 42h1M19 43h1M93 43h1M29 44h1M55 44h1M57 44h1M100 44h1M102 44h1M22 45h1M26 45h1M43 45h1M46 45h1M100 45h1M2 46h1M9 46h1M19 46h1M29 46h1M32 46h3M39 46h1M48 46h1M57 46h1M62 46h1M68 46h2M76 46h1M84 46h1M90 46h1M117 46h1M4 47h1M6 47h1M8 47h2M11 47h3M15 47h2M21 47h1M23 47h1M28 47h1M31 47h1M34 47h1M41 47h1M43 47h2M50 47h3M62 47h3M69 47h1M71 47h1M80 47h3M87 47h2M92 47h1M0 48h3M5 48h3M9 48h1M12 48h2M19 48h1M21 48h1M23 48h2M28 48h3M32 48h1M36 48h1M42 48h1M48 48h1M50 48h1M53 48h2M58 48h1M60 48h2M80 48h1M90 48h1M97 48h1M100 48h1M107 48h1M109 48h1M4 49h3M9 49h3M14 49h1M17 49h1M19 49h2M23 49h1M26 49h1M28 49h1M30 49h3M34 49h1M37 49h4M42 49h5M49 49h3M53 49h2M59 49h6M66 49h2M70 49h1M72 49h2M78 49h2M83 49h1M85 49h1M91 49h1M97 49h1M105 49h1M0 50h3M4 50h1M6 50h3M11 50h2M14 50h2M17 50h1M20 50h2M25 50h1M27 50h4M33 50h3M41 50h1M44 50h1M46 50h1M50 50h2M55 50h3M60 50h1M65 50h1M67 50h1M74 50h1M78 50h3M84 50h2M89 50h1M97 50h1M104 50h1M107 50h1M116 50h1M0 51h3M5 51h4M10 51h4M15 51h3M20 51h2M23 51h1M25 51h1M28 51h2M31 51h1M33 51h4M38 51h1M43 51h2M47 51h3M51 51h5M57 51h8M66 51h1M77 51h1M85 51h3M89 51h2M93 51h1M96 51h1M117 51h1M120 51h1M0 52h5M7 52h1M9 52h2M13 52h3M17 52h1M20 52h2M23 52h1M25 52h3M30 52h2M33 52h3M37 52h1M39 52h3M46 52h2M49 52h2M53 52h1M55 52h3M60 52h1M62 52h4M67 52h4M72 52h1M74 52h1M76 52h1M81 52h2M86 52h1M95 52h3M99 52h1M104 52h1M114 52h1M0 53h1M6 53h7M14 53h2M17 53h1M20 53h2M24 53h3M32 53h3M36 53h3M40 53h5M46 53h10M58 53h2M61 53h2M64 53h1M69 53h1M71 53h1M73 53h1M76 53h1M78 53h2M84 53h1M94 53h1M100 53h1M102 53h1M3 54h3M7 54h1M9 54h7M17 54h1M20 54h1M22 54h3M27 54h2M30 54h1M32 54h4M37 54h5M46 54h1M48 54h4M56 54h2M60 54h2M63 54h1M65 54h1M67 54h4M72 54h1M77 54h1M82 54h1M86 54h1M105 54h1M0 55h2M4 55h2M8 55h5M14 55h5M23 55h1M25 55h3M31 55h1M33 55h4M38 55h1M40 55h2M43 55h2M46 55h2M50 55h2M53 55h7M62 55h1M64 55h2M68 55h1M70 55h2M75 55h2M78 55h2M81 55h1M87 55h1M91 55h1M101 55h2M107 55h2M117 55h1M0 56h2M5 56h1M7 56h1M9 56h1M11 56h2M14 56h8M23 56h3M31 56h2M35 56h2M38 56h1M40 56h3M44 56h2M49 56h3M53 56h1M55 56h2M58 56h1M60 56h1M62 56h1M65 56h1M67 56h5M73 56h2M80 56h1M83 56h2M88 56h1M100 56h1M102 56h2M117 56h1M0 57h3M4 57h3M8 57h1M10 57h3M15 57h3M19 57h1M21 57h2M24 57h2M27 57h1M29 57h2M32 57h2M36 57h1M38 57h3M42 57h11M55 57h3M59 57h2M63 57h1M65 57h1M69 57h2M75 57h1M77 57h1M82 57h1M86 57h1M97 57h1M100 57h2M104 57h1M107 57h1M0 58h5M6 58h1M10 58h2M13 58h1M15 58h3M21 58h1M25 58h1M28 58h1M30 58h1M33 58h2M38 58h4M44 58h4M50 58h1M54 58h1M56 58h2M60 58h2M66 58h4M71 58h1M75 58h1M77 58h6M88 58h1M90 58h3M94 58h1M100 58h1M118 58h1M0 59h1M3 59h3M9 59h5M15 59h1M18 59h3M25 59h2M28 59h2M31 59h5M37 59h6M44 59h2M47 59h2M50 59h1M52 59h3M57 59h1M60 59h1M62 59h1M64 59h5M70 59h3M74 59h1M76 59h2M81 59h1M83 59h1M92 59h1M95 59h2M98 59h2M101 59h1M110 59h1M115 59h1M117 59h1M1 60h1M3 60h1M5 60h1M7 60h2M10 60h1M12 60h1M14 60h8M24 60h1M26 60h1M28 60h1M31 60h1M34 60h3M40 60h1M45 60h1M47 60h4M52 60h2M56 60h3M64 60h3M68 60h3M74 60h1M76 60h1M79 60h1M84 60h1M87 60h2M91 60h1M95 60h3M100 60h1M102 60h1M107 60h2M119 60h1M1 61h1M3 61h6M10 61h1M15 61h2M18 61h1M20 61h1M22 61h1M25 61h2M28 61h2M31 61h3M35 61h1M39 61h3M43 61h1M45 61h1M48 61h5M55 61h2M58 61h2M63 61h1M66 61h2M73 61h1M75 61h1M80 61h1M83 61h2M91 61h1M96 61h3M107 61h1M0 62h3M4 62h3M8 62h2M12 62h1M14 62h2M19 62h4M24 62h1M26 62h3M31 62h1M34 62h2M39 62h2M42 62h4M47 62h6M55 62h5M63 62h1M65 62h1M68 62h2M71 62h3M75 62h1M77 62h1M80 62h1M86 62h2M90 62h2M97 62h1M105 62h1M108 62h1M111 62h2M0 63h5M6 63h5M12 63h7M20 63h4M25 63h7M33 63h6M40 63h3M45 63h4M50 63h1M52 63h1M54 63h6M64 63h1M66 63h2M69 63h4M78 63h1M83 63h2M88 63h2M93 63h1M99 63h2M110 63h1M112 63h1M0 64h3M4 64h10M15 64h15M31 64h2M34 64h3M39 64h1M43 64h10M54 64h1M60 64h4M70 64h2M74 64h2M77 64h6M90 64h1M99 64h1M102 64h1M107 64h1M0 65h5M6 65h2M9 65h1M13 65h1M15 65h2M19 65h2M22 65h3M26 65h1M28 65h10M39 65h5M45 65h1M47 65h1M49 65h1M51 65h1M54 65h2M57 65h1M59 65h1M61 65h1M64 65h1M66 65h1M68 65h2M72 65h1M79 65h4M85 65h1M93 65h1M95 65h1M110 65h1M119 65h1M1 66h5M9 66h2M12 66h2M15 66h6M23 66h1M31 66h3M35 66h6M42 66h2M45 66h7M54 66h1M56 66h5M62 66h2M65 66h1M68 66h1M70 66h2M74 66h2M77 66h1M79 66h1M85 66h1M89 66h1M92 66h1M108 66h1M111 66h1M2 67h5M9 67h3M14 67h4M19 67h2M23 67h4M28 67h2M31 67h1M34 67h2M37 67h7M45 67h10M56 67h1M58 67h1M60 67h2M65 67h1M67 67h1M76 67h1M78 67h1M81 67h2M87 67h1M91 67h1M116 67h1M0 68h3M4 68h2M7 68h8M17 68h3M21 68h3M25 68h2M28 68h1M30 68h1M33 68h2M36 68h2M39 68h1M41 68h2M45 68h2M48 68h1M53 68h2M56 68h4M61 68h1M63 68h3M69 68h1M72 68h2M87 68h1M94 68h1M97 68h1M108 68h2M112 68h1M2 69h5M9 69h1M11 69h1M15 69h1M17 69h7M25 69h1M27 69h3M31 69h3M35 69h3M39 69h2M42 69h6M50 69h1M52 69h2M55 69h3M60 69h1M63 69h1M65 69h1M67 69h1M69 69h3M74 69h1M92 69h1M96 69h1M98 69h1M102 69h2M112 69h1M114 69h1M2 70h4M8 70h2M11 70h2M14 70h1M18 70h1M20 70h1M23 70h4M28 70h1M32 70h1M34 70h1M36 70h3M41 70h1M43 70h1M45 70h3M50 70h1M52 70h1M55 70h5M61 70h1M63 70h1M65 70h2M68 70h1M71 70h2M74 70h1M76 70h2M83 70h2M91 70h1M97 70h1M106 70h1M109 70h1M0 71h5M6 71h2M9 71h5M17 71h1M19 71h3M24 71h2M27 71h2M30 71h1M32 71h1M34 71h5M40 71h2M43 71h1M45 71h7M54 71h1M56 71h3M61 71h5M67 71h1M74 71h1M80 71h1M83 71h1M85 71h1M89 71h2M93 71h1M104 71h1M106 71h1M115 71h1M2 72h1M6 72h12M19 72h3M25 72h4M31 72h2M34 72h2M37 72h2M40 72h1M42 72h3M47 72h2M50 72h1M52 72h2M55 72h2M58 72h2M61 72h1M63 72h1M66 72h2M69 72h2M72 72h1M74 72h1M78 72h1M80 72h5M86 72h1M90 72h1M94 72h1M101 72h1M107 72h1M0 73h3M6 73h1M8 73h2M12 73h3M20 73h2M23 73h1M26 73h4M32 73h1M34 73h1M37 73h2M41 73h1M44 73h2M48 73h2M56 73h2M63 73h2M70 73h3M74 73h1M78 73h2M82 73h1M86 73h2M89 73h2M95 73h1M102 73h2M4 74h3M8 74h1M10 74h2M14 74h1M19 74h1M22 74h1M24 74h1M26 74h4M31 74h4M38 74h2M41 74h1M44 74h2M47 74h1M50 74h1M54 74h6M61 74h1M64 74h1M66 74h3M70 74h1M73 74h1M82 74h1M84 74h1M93 74h1M101 74h2M106 74h1M0 75h3M12 75h2M17 75h1M19 75h1M21 75h2M25 75h2M28 75h1M30 75h1M32 75h3M40 75h5M47 75h1M50 75h2M54 75h1M56 75h1M63 75h2M67 75h4M76 75h2M80 75h1M83 75h1M93 75h1M95 75h1M100 75h1M105 75h1M2 76h1M4 76h1M7 76h1M9 76h1M12 76h1M14 76h1M16 76h1M19 76h2M23 76h2M26 76h1M28 76h1M30 76h2M33 76h1M37 76h2M42 76h1M44 76h1M46 76h1M48 76h1M54 76h1M56 76h1M58 76h3M63 76h2M81 76h1M84 76h1M92 76h1M95 76h1M100 76h1M105 76h1M0 77h1M3 77h1M9 77h2M15 77h1M18 77h3M22 77h1M24 77h2M31 77h1M34 77h1M39 77h1M43 77h2M46 77h2M49 77h1M51 77h1M53 77h2M61 77h2M69 77h1M73 77h1M77 77h1M91 77h1M108 77h1M118 77h1M0 78h2M5 78h2M11 78h1M14 78h1M17 78h2M23 78h2M28 78h2M31 78h1M36 78h1M38 78h1M40 78h1M43 78h1M45 78h1M53 78h4M59 78h1M62 78h1M65 78h1M68 78h1M71 78h1M81 78h1M92 78h1M96 78h1M110 78h1M5 79h1M8 79h1M14 79h3M18 79h1M21 79h1M23 79h1M28 79h1M31 79h1M33 79h2M38 79h1M41 79h4M46 79h1M51 79h1M53 79h4M58 79h1M62 79h1M67 79h1M69 79h1M74 79h2M78 79h1M82 79h1M85 79h1M87 79h1M98 79h1M102 79h1M0 80h1M2 80h1M4 80h1M6 80h1M8 80h3M12 80h2M16 80h2M20 80h2M24 80h1M28 80h1M30 80h1M32 80h4M39 80h2M43 80h1M46 80h1M48 80h1M51 80h2M55 80h3M59 80h2M63 80h1M67 80h2M72 80h1M77 80h1M83 80h1M86 80h1M90 80h1M96 80h1M98 80h1M0 81h1M4 81h1M6 81h2M10 81h1M13 81h1M16 81h1M18 81h1M20 81h1M25 81h1M28 81h1M30 81h1M32 81h2M35 81h2M39 81h2M44 81h5M53 81h1M55 81h1M75 81h2M79 81h1M83 81h1M2 82h1M4 82h1M9 82h1M11 82h1M14 82h2M17 82h1M19 82h1M21 82h2M24 82h1M26 82h1M31 82h3M39 82h3M43 82h5M49 82h1M51 82h1M53 82h1M55 82h1M58 82h1M61 82h2M64 82h3M69 82h2M77 82h1M81 82h2M84 82h1M94 82h1M98 82h1M0 83h1M2 83h1M10 83h1M12 83h5M20 83h1M22 83h2M26 83h2M29 83h1M31 83h2M37 83h1M39 83h5M45 83h2M50 83h2M55 83h3M59 83h1M70 83h1M74 83h1M81 83h1M90 83h1M0 84h1M2 84h1M4 84h1M6 84h1M10 84h2M16 84h1M19 84h1M24 84h1M27 84h1M30 84h1M35 84h2M39 84h3M43 84h6M50 84h3M55 84h1M57 84h2M60 84h2M64 84h2M67 84h1M79 84h1M84 84h1M88 84h1M90 84h1M101 84h1M3 85h1M6 85h2M12 85h1M14 85h2M17 85h1M22 85h3M26 85h3M30 85h3M36 85h1M38 85h1M40 85h1M42 85h1M44 85h1M46 85h1M48 85h1M50 85h2M59 85h1M64 85h2M68 85h1M70 85h1M73 85h1M78 85h1M83 85h1M89 85h1M114 85h1M0 86h1M2 86h1M6 86h2M12 86h1M14 86h2M17 86h1M19 86h1M21 86h4M26 86h2M30 86h1M35 86h1M37 86h1M40 86h1M42 86h3M47 86h3M53 86h1M56 86h1M58 86h2M61 86h2M64 86h3M68 86h1M73 86h1M80 86h2M90 86h1M0 87h1M5 87h6M13 87h2M20 87h2M25 87h2M29 87h3M33 87h1M42 87h1M46 87h4M53 87h1M56 87h6M64 87h1M66 87h1M68 87h1M74 87h1M81 87h1M85 87h1M89 87h1M106 87h2M3 88h1M8 88h1M15 88h1M20 88h3M24 88h4M30 88h1M33 88h2M36 88h1M39 88h1M41 88h2M44 88h9M55 88h1M58 88h2M61 88h1M65 88h1M71 88h1M73 88h1M75 88h1M77 88h1M84 88h1M91 88h1M106 88h1M0 89h1M3 89h1M5 89h2M9 89h4M14 89h4M20 89h2M24 89h2M27 89h3M31 89h3M37 89h2M40 89h1M42 89h5M49 89h6M56 89h1M65 89h1M73 89h3M77 89h1M79 89h1M85 89h1M87 89h1M101 89h1M0 90h1M2 90h3M6 90h3M18 90h1M23 90h1M27 90h6M36 90h5M42 90h1M44 90h3M48 90h3M56 90h2M59 90h1M65 90h3M71 90h1M85 90h2M3 91h1M6 91h3M10 91h1M15 91h2M19 91h1M23 91h4M31 91h1M34 91h2M37 91h2M40 91h2M43 91h4M48 91h2M51 91h3M55 91h3M60 91h1M62 91h4M68 91h2M75 91h2M79 91h1M113 91h1M120 91h1M2 92h1M5 92h3M9 92h2M14 92h1M17 92h1M19 92h1M21 92h1M23 92h1M26 92h2M31 92h1M35 92h3M39 92h4M49 92h1M51 92h2M54 92h5M63 92h2M68 92h1M70 92h3M83 92h2M88 92h1M1 93h2M4 93h1M6 93h1M10 93h1M12 93h1M16 93h3M23 93h1M26 93h2M31 93h1M33 93h2M36 93h3M40 93h2M43 93h5M49 93h3M54 93h1M57 93h1M66 93h2M72 93h1M76 93h1M79 93h1M89 93h1M1 94h3M5 94h3M13 94h1M15 94h1M23 94h1M26 94h2M29 94h1M33 94h1M40 94h4M48 94h1M51 94h1M53 94h1M55 94h4M60 94h2M71 94h2M77 94h1M84 94h1M92 94h1M113 94h1M0 95h1M4 95h2M7 95h1M9 95h2M15 95h2M19 95h6M26 95h2M31 95h1M35 95h4M40 95h1M43 95h3M47 95h3M51 95h1M54 95h2M59 95h2M66 95h2M99 95h1M105 95h1M110 95h1M118 95h1M1 96h1M5 96h4M10 96h2M15 96h1M18 96h1M22 96h1M24 96h1M30 96h4M36 96h1M40 96h1M42 96h4M47 96h1M49 96h4M54 96h2M57 96h1M60 96h1M64 96h1M68 96h1M70 96h2M74 96h1M85 96h1M90 96h1M102 96h1M112 96h1M2 97h2M5 97h1M7 97h4M12 97h1M15 97h2M19 97h1M23 97h1M25 97h1M27 97h1M31 97h1M33 97h2M36 97h1M38 97h2M43 97h1M45 97h4M51 97h1M53 97h5M60 97h1M63 97h1M65 97h1M67 97h1M75 97h1M86 97h1M95 97h1M99 97h1M111 97h1M120 97h1M0 98h4M6 98h1M10 98h2M13 98h1M15 98h3M22 98h4M27 98h4M32 98h1M34 98h2M37 98h2M40 98h1M42 98h3M46 98h1M48 98h1M51 98h2M54 98h1M59 98h4M64 98h1M66 98h1M68 98h1M71 98h1M76 98h1M79 98h1M83 98h1M0 99h1M3 99h2M6 99h1M8 99h2M11 99h1M19 99h1M21 99h1M23 99h3M27 99h1M29 99h2M32 99h2M36 99h1M39 99h1M45 99h6M52 99h1M54 99h4M59 99h1M64 99h1M73 99h2M78 99h2M91 99h1M95 99h1M98 99h2M1 100h2M7 100h1M11 100h3M15 100h4M26 100h2M29 100h2M33 100h1M35 100h2M40 100h4M46 100h1M48 100h2M51 100h2M54 100h1M57 100h3M63 100h1M66 100h1M70 100h2M102 100h1M2 101h1M6 101h1M8 101h7M16 101h2M23 101h1M25 101h2M28 101h1M30 101h2M36 101h6M43 101h5M49 101h1M51 101h2M54 101h1M56 101h1M58 101h1M65 101h1M68 101h2M77 101h1M88 101h1M103 101h1M116 101h1M1 102h2M7 102h1M9 102h1M16 102h2M21 102h1M23 102h1M27 102h4M34 102h3M39 102h2M42 102h1M44 102h1M46 102h2M51 102h1M53 102h4M58 102h3M62 102h1M65 102h2M79 102h1M82 102h1M84 102h1M0 103h1M3 103h2M7 103h2M13 103h1M16 103h1M19 103h1M21 103h2M25 103h1M27 103h6M34 103h3M40 103h2M45 103h1M47 103h1M49 103h1M51 103h2M55 103h2M59 103h2M62 103h1M64 103h1M66 103h2M70 103h1M74 103h1M78 103h1M83 103h1M86 103h1M91 103h1M103 103h1M110 103h1M0 104h4M5 104h2M9 104h1M13 104h2M16 104h2M19 104h1M21 104h2M24 104h5M31 104h2M35 104h2M38 104h2M42 104h6M50 104h1M54 104h3M63 104h1M66 104h1M75 104h2M78 104h1M81 104h1M104 104h1M108 104h2M0 105h1M4 105h1M6 105h1M9 105h1M12 105h1M17 105h5M23 105h1M25 105h4M32 105h3M36 105h2M39 105h4M44 105h6M51 105h2M54 105h3M59 105h2M64 105h3M106 105h1M109 105h1M1 106h4M7 106h2M12 106h3M17 106h2M20 106h2M25 106h1M31 106h2M34 106h1M37 106h2M41 106h2M44 106h1M46 106h2M49 106h2M52 106h1M54 106h1M56 106h1M58 106h2M61 106h1M63 106h2M67 106h2M70 106h1M76 106h1M82 106h1M88 106h1M92 106h1M97 106h1M113 106h1M1 107h1M4 107h4M11 107h2M16 107h3M23 107h1M26 107h1M29 107h1M32 107h2M36 107h1M40 107h2M43 107h1M48 107h1M51 107h1M53 107h5M59 107h4M64 107h3M68 107h1M71 107h1M73 107h2M79 107h1M83 107h1M2 108h1M4 108h2M7 108h1M10 108h2M13 108h1M17 108h2M20 108h1M22 108h2M25 108h2M31 108h4M36 108h1M39 108h3M43 108h4M48 108h2M54 108h1M56 108h1M58 108h3M64 108h2M67 108h1M71 108h1M74 108h1M76 108h1M80 108h1M1 109h1M5 109h2M10 109h3M17 109h1M21 109h2M25 109h2M29 109h1M34 109h2M40 109h1M42 109h1M44 109h2M47 109h2M53 109h4M61 109h3M69 109h1M74 109h2M81 109h1M84 109h1M98 109h2M107 109h1M2 110h3M7 110h1M9 110h1M12 110h3M16 110h1M21 110h2M26 110h4M31 110h1M33 110h7M42 110h1M44 110h6M53 110h1M55 110h3M59 110h1M61 110h1M65 110h1M67 110h2M71 110h2M74 110h1M77 110h1M89 110h1M99 110h1M106 110h1M109 110h1M0 111h2M5 111h2M12 111h1M15 111h3M20 111h5M32 111h1M35 111h2M39 111h1M41 111h1M43 111h2M46 111h2M50 111h5M56 111h1M59 111h4M64 111h1M66 111h1M68 111h4M74 111h1M82 111h1M109 111h1M113 111h1M4 112h1M7 112h1M9 112h2M14 112h1M16 112h2M19 112h1M25 112h1M27 112h1M32 112h1M34 112h4M40 112h4M47 112h4M53 112h5M59 112h1M62 112h2M70 112h4M75 112h1M78 112h1M82 112h1M119 112h1M1 113h2M4 113h2M7 113h1M10 113h2M14 113h1M23 113h1M28 113h2M32 113h4M39 113h2M44 113h4M50 113h1M54 113h1M57 113h2M60 113h2M64 113h1M71 113h3M75 113h1M77 113h1M82 113h3M91 113h1M95 113h1M105 113h1M0 114h1M4 114h1M7 114h1M17 114h1M20 114h1M23 114h5M29 114h5M36 114h5M43 114h1M47 114h1M49 114h2M55 114h1M57 114h1M59 114h1M61 114h1M65 114h1M67 114h1M71 114h1M79 114h2M89 114h1M98 114h1M115 114h1M117 114h1M5 115h2M9 115h1M11 115h1M13 115h1M15 115h2M18 115h5M24 115h3M28 115h1M30 115h1M32 115h1M34 115h4M43 115h1M46 115h2M49 115h1M52 115h1M55 115h1M57 115h1M59 115h1M61 115h1M68 115h1M70 115h1M75 115h2M78 115h2M98 115h1M107 115h1M111 115h1M119 115h1M2 116h2M6 116h4M11 116h1M13 116h2M16 116h1M23 116h1M25 116h1M27 116h1M30 116h4M38 116h2M43 116h2M46 116h2M49 116h2M52 116h2M56 116h1M58 116h1M63 116h2M69 116h1M80 116h1M95 116h1M117 116h1M0 117h2M6 117h1M8 117h1M10 117h2M14 117h2M19 117h2M23 117h1M26 117h2M31 117h4M38 117h2M43 117h3M47 117h1M49 117h2M52 117h4M57 117h2M63 117h2M69 117h1M76 117h2M83 117h1M105 117h1M107 117h1M0 118h1M4 118h1M7 118h1M9 118h2M13 118h3M18 118h1M20 118h6M27 118h2M31 118h1M34 118h3M39 118h2M43 118h2M47 118h2M50 118h1M52 118h2M56 118h1M58 118h1M60 118h1M62 118h1M64 118h1M66 118h1M73 118h1M79 118h1M85 118h1M90 118h1M97 118h1M1 119h1M3 119h1M8 119h3M14 119h1M17 119h2M20 119h1M23 119h5M30 119h1M32 119h4M37 119h2M40 119h2M44 119h2M53 119h2M56 119h3M61 119h1M68 119h1M70 119h1M74 119h1M79 119h1M89 119h1M6 120h3M10 120h3M15 120h1M19 120h1M24 120h1M28 120h1M31 120h3M36 120h1M38 120h1M40 120h1M43 120h3M48 120h1M50 120h1M53 120h1M58 120h1M64 120h3M70 120h1M74 120h3M80 120h1M87 120h1M106 120h1" stroke="#000" stroke-width="1.4" fill="none"/>
<rect x="336.5" y="96.5" width="14" height="15.5" rx="5" fill="#b4b4b4" filter="url(#b1)" opacity="0.85"/><ellipse cx="343.8" cy="104" rx="9" ry="8.5" fill="#b8b8b8" filter="url(#b2)" opacity="0.6"/>
<rect x="355.70" y="69.40" width="39.70" height="21.50" fill="none" stroke="#555" stroke-width="0.6"/>
<text x="373.50" y="80.00" font-size="3.6" font-weight="bold" stroke="#111" stroke-width="0.16" text-anchor="middle" fill="#111">12.57</text>
<text x="193.50" y="165.60" font-size="7.9" text-anchor="middle" textLength="36.5" lengthAdjust="spacingAndGlyphs" fill="#141414">Peripheral</text>
<text x="193.50" y="175.20" font-size="7.9" text-anchor="middle" textLength="19.5" lengthAdjust="spacingAndGlyphs" fill="#141414">blood</text>
<text x="151.30" y="231.00" font-size="7.8" transform="rotate(-90 151.30 231.00)" textLength="28.0" lengthAdjust="spacingAndGlyphs" fill="#141414">Lineage</text>
<text x="171.20" y="257.30" font-size="8.0" textLength="56.0" lengthAdjust="spacingAndGlyphs" fill="#141414">Foward Scatter</text>
<path d="M149.8 238.8V254.7H165.3" stroke="#000" stroke-width="1.45" fill="none" stroke-linejoin="miter"/>
<path d="M149.8 236.8l-1.5 3.2h3z M167.3 254.7l-3.2 -1.5v3z" fill="#000"/>
<path d="M163.50 178.00L163.50 240.40" stroke="#888" stroke-width="0.6" fill="none"/>
<path d="M163.50 240.20L226.00 240.20" stroke="#999" stroke-width="0.6" fill="none"/>
<path d="M180.40 182.00L180.40 240.20" stroke="#777" stroke-width="0.5" fill="none"/>
<text x="164.30" y="246.30" font-size="3.3" font-weight="bold" stroke="#333" stroke-width="0.16" text-anchor="middle" fill="#333">0</text>
<text x="175.50" y="246.30" font-size="3.3" font-weight="bold" stroke="#333" stroke-width="0.16" text-anchor="middle" fill="#333">200</text>
<text x="188.00" y="246.30" font-size="3.3" font-weight="bold" stroke="#333" stroke-width="0.16" text-anchor="middle" fill="#333">400</text>
<text x="200.00" y="246.30" font-size="3.3" font-weight="bold" stroke="#333" stroke-width="0.16" text-anchor="middle" fill="#333">600</text>
<text x="212.50" y="246.30" font-size="3.3" font-weight="bold" stroke="#333" stroke-width="0.16" text-anchor="middle" fill="#333">800</text>
<text x="224.50" y="246.30" font-size="3.3" font-weight="bold" stroke="#333" stroke-width="0.16" text-anchor="middle" fill="#333">1000</text>
<text x="160.00" y="195.00" font-size="3.3" font-weight="bold" stroke="#333" stroke-width="0.16" text-anchor="middle" transform="rotate(-25 160.00 195.00)" fill="#333">10<tspan dy="-1.32" font-size="2.24">3</tspan><tspan dy="1.32"></tspan></text>
<text x="160.00" y="210.50" font-size="3.3" font-weight="bold" stroke="#333" stroke-width="0.16" text-anchor="middle" transform="rotate(-25 160.00 210.50)" fill="#333">10<tspan dy="-1.32" font-size="2.24">2</tspan><tspan dy="1.32"></tspan></text>
<text x="160.00" y="226.00" font-size="3.3" font-weight="bold" stroke="#333" stroke-width="0.16" text-anchor="middle" transform="rotate(-25 160.00 226.00)" fill="#333">10<tspan dy="-1.32" font-size="2.24">1</tspan><tspan dy="1.32"></tspan></text>
<text x="160.00" y="242.50" font-size="3.3" font-weight="bold" stroke="#333" stroke-width="0.16" text-anchor="middle" transform="rotate(-25 160.00 242.50)" fill="#333">10<tspan dy="-1.32" font-size="2.24">0</tspan><tspan dy="1.32"></tspan></text>
<path transform="translate(180.60 178.45) scale(0.5)" d="M22 12h49M13 14h57M9 16h59M6 18h60M3 20h62M2 22h61M0 24h61M0 26h59M0 28h57M0 30h56M0 32h54M0 34h52M0 36h51M0 38h49M0 40h47M0 42h45M0 44h43M0 46h42M0 48h40M0 50h38M0 52h36M0 54h34M0 56h32M0 58h30M0 60h28M0 62h26M0 64h24M0 66h21M0 68h19M0 70h15" stroke="#000" stroke-width="2.6" fill="none"/>
<path transform="translate(180.60 178.45) scale(0.5)" d="M34 0h1M47 0h1M53 0h1M56 0h1M62 0h1M64 0h1M67 0h1M73 0h1M76 0h2M84 0h1M90 0h1M19 1h1M28 1h1M32 1h1M34 1h1M36 1h2M41 1h1M54 1h1M56 1h2M64 1h1M66 1h1M69 1h2M80 1h1M86 1h1M90 1h1M9 2h1M13 2h1M18 2h1M23 2h2M31 2h1M34 2h1M39 2h1M41 2h2M51 2h3M57 2h3M62 2h2M66 2h1M68 2h5M74 2h1M76 2h1M78 2h1M80 2h2M86 2h3M13 3h1M15 3h1M20 3h1M24 3h1M26 3h2M29 3h1M33 3h2M37 3h2M40 3h2M43 3h2M46 3h1M48 3h4M55 3h1M59 3h1M61 3h7M70 3h1M73 3h8M82 3h1M84 3h1M87 3h4M12 4h1M18 4h1M20 4h1M22 4h1M24 4h1M26 4h2M29 4h2M36 4h1M39 4h2M44 4h1M47 4h2M50 4h2M53 4h3M57 4h3M63 4h2M67 4h3M71 4h2M77 4h3M82 4h4M87 4h2M90 4h1M13 5h1M17 5h3M21 5h3M28 5h10M39 5h5M45 5h3M49 5h1M51 5h3M56 5h8M65 5h9M75 5h1M77 5h4M82 5h1M84 5h4M90 5h1M14 6h1M16 6h1M18 6h2M21 6h1M23 6h5M29 6h1M31 6h2M34 6h11M46 6h14M61 6h3M67 6h13M83 6h7M3 7h2M8 7h3M12 7h2M15 7h5M21 7h2M24 7h7M32 7h5M38 7h5M44 7h7M52 7h9M62 7h13M76 7h6M83 7h2M86 7h5M3 8h1M5 8h1M10 8h2M14 8h3M18 8h1M20 8h2M23 8h2M26 8h4M31 8h1M33 8h31M65 8h25M7 9h2M10 9h1M12 9h5M18 9h1M20 9h58M79 9h12M1 10h2M6 10h1M8 10h2M11 10h80M1 11h1M6 11h26M70 11h16M87 11h4M1 12h1M5 12h17M72 12h13M86 12h5M0 13h1M2 13h1M4 13h1M6 13h11M71 13h7M79 13h7M87 13h1M89 13h2M1 14h1M3 14h10M70 14h21M3 15h6M10 15h1M69 15h11M81 15h10M1 16h8M68 16h3M73 16h9M84 16h5M90 16h1M1 17h1M4 17h3M67 17h10M78 17h6M85 17h6M0 18h6M66 18h15M82 18h2M85 18h4M90 18h1M0 19h5M65 19h8M74 19h5M80 19h1M82 19h2M85 19h1M88 19h2M0 20h3M65 20h11M77 20h4M82 20h5M88 20h3M0 21h2M64 21h9M74 21h6M81 21h3M85 21h2M88 21h1M0 22h2M64 22h5M70 22h8M79 22h2M83 22h2M86 22h1M88 22h1M90 22h1M0 23h1M62 23h3M66 23h3M70 23h6M77 23h3M81 23h2M84 23h1M86 23h1M89 23h1M61 24h9M71 24h5M78 24h7M86 24h3M60 25h5M66 25h7M74 25h1M76 25h3M81 25h2M86 25h1M90 25h1M59 26h12M72 26h6M79 26h1M84 26h5M90 26h1M58 27h10M69 27h9M80 27h1M82 27h1M85 27h3M89 27h1M57 28h10M68 28h4M73 28h1M77 28h2M81 28h2M85 28h1M87 28h2M57 29h6M64 29h5M71 29h11M85 29h2M88 29h1M56 30h8M66 30h5M72 30h3M77 30h3M82 30h1M86 30h1M88 30h2M55 31h16M72 31h2M77 31h1M85 31h1M87 31h2M54 32h8M63 32h9M74 32h1M76 32h1M78 32h6M85 32h2M89 32h1M53 33h15M69 33h1M71 33h1M77 33h1M79 33h1M81 33h2M84 33h3M89 33h2M52 34h11M65 34h3M70 34h1M73 34h2M76 34h1M78 34h1M81 34h1M85 34h1M51 35h7M59 35h2M62 35h4M67 35h2M71 35h3M75 35h1M78 35h1M83 35h1M51 36h6M59 36h3M64 36h4M69 36h1M71 36h1M76 36h3M80 36h1M82 36h1M90 36h1M50 37h6M57 37h2M60 37h2M63 37h2M67 37h1M69 37h1M71 37h2M74 37h1M76 37h3M81 37h2M84 37h2M49 38h11M61 38h4M66 38h1M69 38h1M72 38h1M75 38h2M78 38h4M86 38h1M48 39h6M55 39h2M59 39h1M62 39h1M65 39h1M72 39h2M77 39h1M79 39h1M83 39h1M85 39h1M47 40h24M73 40h1M75 40h1M79 40h1M82 40h1M85 40h1M46 41h12M59 41h1M61 41h1M63 41h1M65 41h3M71 41h2M76 41h2M81 41h1M86 41h1M45 42h6M52 42h4M57 42h1M63 42h1M65 42h1M69 42h2M73 42h2M76 42h1M83 42h2M86 42h1M44 43h11M56 43h6M65 43h3M72 43h1M74 43h2M82 43h1M90 43h1M43 44h14M61 44h2M67 44h1M71 44h1M74 44h1M83 44h2M86 44h1M88 44h1M90 44h1M43 45h2M46 45h4M52 45h1M54 45h2M58 45h4M66 45h1M68 45h1M70 45h1M72 45h2M75 45h1M80 45h4M90 45h1M42 46h14M58 46h3M66 46h1M68 46h1M72 46h1M76 46h2M88 46h1M41 47h6M48 47h1M50 47h6M58 47h3M62 47h2M75 47h1M78 47h2M82 47h2M85 47h1M40 48h9M50 48h2M57 48h1M59 48h2M62 48h2M66 48h1M78 48h2M39 49h2M42 49h6M49 49h5M56 49h2M59 49h4M65 49h1M69 49h1M71 49h1M73 49h1M79 49h1M38 50h8M48 50h5M55 50h2M60 50h1M64 50h1M77 50h1M84 50h1M86 50h1M37 51h6M44 51h5M50 51h5M59 51h2M65 51h1M67 51h1M69 51h5M36 52h8M45 52h1M47 52h1M50 52h4M59 52h1M61 52h3M75 52h1M82 52h1M35 53h14M50 53h1M52 53h3M56 53h2M60 53h1M63 53h2M72 53h1M74 53h2M79 53h1M86 53h1M34 54h9M45 54h8M54 54h3M59 54h1M63 54h1M65 54h3M74 54h1M78 54h1M83 54h1M33 55h14M48 55h4M53 55h2M56 55h1M59 55h4M65 55h1M68 55h1M70 55h1M72 55h1M74 55h1M76 55h1M85 55h1M32 56h11M44 56h2M47 56h3M52 56h1M54 56h2M58 56h1M60 56h3M65 56h2M69 56h1M75 56h3M80 56h1M82 56h1M87 56h1M31 57h5M37 57h7M46 57h2M49 57h3M54 57h1M57 57h3M61 57h1M63 57h1M73 57h1M81 57h1M30 58h3M34 58h1M37 58h3M41 58h4M46 58h1M48 58h1M50 58h4M56 58h2M62 58h1M65 58h2M81 58h1M86 58h1M89 58h1M29 59h10M40 59h2M43 59h6M50 59h1M53 59h1M55 59h2M73 59h1M75 59h1M78 59h1M80 59h1M86 59h1M28 60h8M38 60h3M42 60h5M48 60h1M50 60h2M55 60h1M58 60h1M65 60h1M77 60h1M83 60h1M28 61h16M46 61h1M52 61h1M54 61h1M56 61h3M60 61h1M62 61h1M65 61h2M71 61h1M26 62h12M40 62h3M46 62h2M49 62h2M53 62h8M70 62h1M72 62h1M75 62h1M78 62h1M25 63h17M44 63h1M48 63h1M51 63h2M57 63h1M61 63h1M75 63h1M79 63h1M89 63h1M24 64h9M34 64h7M43 64h1M45 64h1M48 64h2M53 64h3M60 64h1M64 64h1M69 64h1M73 64h1M90 64h1M22 65h7M30 65h10M41 65h3M46 65h2M53 65h2M57 65h1M63 65h1M67 65h1M74 65h1M21 66h8M30 66h7M39 66h3M43 66h2M46 66h1M50 66h2M58 66h1M60 66h2M78 66h1M80 66h1M20 67h3M24 67h6M31 67h5M40 67h3M44 67h1M47 67h1M49 67h1M51 67h1M58 67h1M60 67h1M64 67h1M79 67h1M82 67h1M19 68h6M26 68h2M31 68h6M38 68h2M43 68h1M47 68h2M52 68h1M54 68h1M57 68h1M74 68h1M76 68h1M79 68h1M17 69h7M25 69h8M34 69h1M38 69h1M41 69h3M45 69h2M49 69h3M53 69h1M56 69h1M59 69h2M71 69h1M82 69h1M84 69h1M88 69h1M15 70h19M35 70h3M43 70h3M58 70h1M62 70h1M68 70h1M74 70h1M85 70h1M0 71h26M27 71h6M34 71h1M36 71h3M41 71h1M44 71h1M46 71h2M49 71h1M51 71h1M61 71h1M64 71h1M87 71h1M0 72h23M24 72h3M28 72h1M30 72h1M34 72h2M37 72h1M43 72h2M46 72h1M48 72h1M50 72h2M55 72h1M60 72h1M78 72h1M0 73h15M16 73h18M36 73h1M39 73h1M42 73h4M64 73h1M72 73h1M0 74h32M37 74h3M42 74h1M45 74h2M50 74h1M53 74h1M64 74h1M69 74h1M77 74h1M86 74h1M0 75h1M2 75h14M17 75h15M35 75h1M37 75h1M39 75h1M41 75h4M56 75h1M61 75h1M74 75h2M0 76h12M13 76h9M23 76h4M29 76h1M31 76h2M34 76h2M45 76h1M53 76h1M67 76h1M71 76h1M78 76h1M88 76h1M0 77h16M17 77h10M28 77h1M30 77h2M33 77h1M38 77h1M48 77h1M56 77h1M66 77h1M70 77h1M82 77h1M87 77h1M0 78h18M19 78h1M21 78h6M28 78h1M30 78h1M35 78h1M37 78h2M41 78h1M44 78h1M49 78h1M51 78h2M69 78h1M77 78h1M83 78h1M0 79h4M6 79h5M12 79h3M17 79h2M20 79h8M29 79h2M32 79h1M36 79h1M38 79h2M44 79h2M50 79h1M68 79h1M81 79h1M0 80h1M2 80h7M10 80h1M12 80h2M15 80h1M17 80h2M20 80h6M27 80h1M29 80h1M31 80h4M42 80h1M68 80h1M73 80h1M0 81h6M7 81h2M11 81h6M18 81h2M22 81h3M26 81h1M29 81h1M32 81h2M36 81h1M44 81h3M54 81h1M58 81h1M74 81h1M85 81h1M0 82h2M3 82h7M11 82h6M18 82h5M24 82h5M33 82h3M37 82h2M43 82h1M46 82h1M54 82h2M63 82h1M68 82h1M0 83h2M3 83h3M8 83h7M16 83h6M23 83h5M32 83h1M35 83h1M40 83h1M43 83h1M51 83h1M53 83h1M0 84h7M8 84h4M13 84h4M18 84h3M22 84h1M24 84h5M30 84h4M35 84h1M41 84h4M58 84h1M65 84h1M72 84h1M79 84h1M87 84h1M0 85h2M3 85h3M7 85h6M14 85h3M18 85h2M21 85h3M25 85h1M27 85h1M31 85h1M33 85h3M41 85h1M48 85h1M65 85h1M70 85h1M78 85h1M81 85h1M83 85h1M86 85h1M1 86h1M4 86h5M11 86h7M19 86h3M24 86h1M47 86h1M89 86h1M0 87h2M5 87h1M7 87h4M13 87h1M16 87h1M18 87h1M20 87h1M22 87h5M28 87h1M30 87h1M43 87h1M45 87h2M52 87h1M85 87h1M0 88h2M3 88h1M7 88h4M13 88h2M16 88h2M19 88h1M21 88h2M24 88h1M26 88h2M36 88h1M39 88h2M43 88h1M52 88h1M70 88h1M75 88h1M2 89h2M5 89h7M13 89h1M16 89h6M40 89h1M43 89h1M48 89h1M57 89h1M63 89h1M74 89h1M0 90h1M2 90h3M6 90h1M8 90h1M13 90h2M19 90h1M29 90h1M33 90h2M37 90h3M41 90h1M48 90h1M52 90h1M79 90h1M0 91h4M5 91h1M8 91h2M11 91h2M14 91h1M16 91h1M19 91h1M28 91h2M42 91h1M52 91h1M56 91h1M58 91h1M66 91h1M0 92h4M5 92h1M7 92h2M11 92h2M14 92h2M17 92h2M24 92h2M29 92h1M31 92h1M33 92h1M37 92h1M48 92h3M52 92h1M68 92h1M3 93h1M7 93h2M14 93h1M16 93h1M18 93h1M20 93h6M28 93h1M31 93h1M43 93h1M53 93h2M80 93h2M86 93h1M0 94h1M3 94h2M6 94h1M8 94h1M13 94h1M15 94h1M17 94h3M21 94h1M27 94h3M31 94h4M40 94h1M51 94h1M67 94h1M1 95h2M5 95h1M11 95h3M18 95h2M22 95h1M36 95h1M42 95h1M60 95h1M81 95h1M2 96h4M7 96h1M9 96h2M13 96h3M17 96h1M20 96h1M26 96h1M29 96h1M31 96h1M34 96h1M38 96h1M41 96h1M44 96h1M51 96h2M60 96h1M72 96h1M81 96h1M87 96h1M89 96h1M0 97h3M10 97h1M14 97h2M17 97h2M20 97h2M23 97h1M25 97h1M27 97h1M58 97h1M1 98h1M8 98h3M14 98h1M18 98h2M22 98h2M26 98h2M30 98h1M40 98h1M44 98h1M2 99h1M4 99h2M11 99h1M19 99h1M21 99h1M23 99h2M33 99h1M40 99h1M45 99h2M53 99h1M60 99h1M65 99h1M3 100h1M7 100h1M10 100h1M14 100h3M22 100h1M26 100h1M31 100h1M35 100h1M62 100h1M0 101h1M2 101h1M7 101h2M13 101h1M17 101h2M20 101h1M22 101h1M37 101h1M49 101h1M52 101h1M79 101h1M1 102h2M6 102h1M9 102h1M11 102h3M18 102h1M23 102h1M28 102h2M31 102h1M37 102h1M46 102h1M82 102h1M87 102h1M2 103h2M10 103h1M18 103h1M21 103h1M24 103h2M28 103h1M60 103h1M64 103h1M1 104h1M5 104h1M7 104h2M16 104h1M18 104h2M22 104h1M35 104h1M37 104h1M41 104h1M47 104h1M63 104h1M69 104h1M1 105h1M5 105h1M8 105h1M18 105h2M44 105h1M53 105h1M79 105h1M0 106h1M11 106h1M23 106h1M27 106h2M31 106h1M34 106h1M42 106h1M85 106h1M3 107h1M5 107h1M10 107h1M13 107h1M17 107h2M22 107h2M26 107h1M30 107h1M41 107h1M1 108h1M5 108h1M19 108h1M50 108h1M3 109h2M7 109h1M12 109h1M22 109h1M35 109h1M41 109h1M48 109h1M67 109h1M84 109h1M2 110h1M4 110h1M14 110h1M22 110h2M27 110h1M33 110h1M81 110h1M4 111h2M10 111h1M14 111h1M18 111h1M20 111h2M27 111h1M41 111h1M53 111h1M66 111h1M1 112h1M3 112h1M8 112h1M14 112h1M17 112h1M29 112h1M9 113h1M59 113h1M65 113h1M69 113h1M0 114h1M25 114h1M32 114h1M37 114h1M55 114h1M2 115h1M4 115h1M6 115h1M12 115h2M33 115h1M37 115h2M49 115h1M51 115h1M84 115h1M1 116h1M5 116h1M12 116h1M66 116h1M71 116h1M13 117h1M20 117h1M49 117h1M2 118h1M4 118h1M18 118h1M23 118h1M33 118h1M37 118h1M85 118h1M2 119h1M5 119h1M9 119h1M20 119h1M3 120h2M10 120h2M13 120h2M40 120h1M60 120h1M20 121h1M23 121h1M33 121h1M42 121h1M0 122h1M7 122h1M11 122h1M13 122h1M17 122h1M52 122h2M1 123h1M12 123h1M15 123h1M19 123h1" stroke="#000" stroke-width="1.4" fill="none"/>
<clipPath id="cC1"><rect x="180.4" y="178" width="45.8" height="62.2"/></clipPath>
<g clip-path="url(#cC1)">
<path d="M182.8 196 C183.3 191 185 187.8 189 186.4 C194 185 201 184.8 206 185.6 C209.5 186.4 210 189 208 193 C205.5 198 201 204.5 196 210 C192.5 214 189 216.8 186.3 216.6 C183.6 216 182.9 212 182.8 207 Z" fill="#666" stroke="#666" stroke-width="2.6" stroke-linejoin="round" filter="url(#b1)"/>
<path d="M182.8 196 C183.3 191 185 187.8 189 186.4 C194 185 201 184.8 206 185.6 C209.5 186.4 210 189 208 193 C205.5 198 201 204.5 196 210 C192.5 214 189 216.8 186.3 216.6 C183.6 216 182.9 212 182.8 207 Z" fill="#a4a4a4" filter="url(#b1)"/>
<path d="M184 197 C184 192.5 186 190.5 188 191 C190.3 191.8 190.8 195 190.6 200 C190.4 206 189.8 211 188 213.2 C186 215 184.3 213 184.1 209 Z" fill="#cdcdcd" filter="url(#b05)"/>
<ellipse cx="187.1" cy="198.8" rx="1.0" ry="1.9" fill="#5e5e5e" filter="url(#b05)"/>
<ellipse cx="186.7" cy="208.6" rx="1.1" ry="1.6" fill="#5e5e5e" filter="url(#b05)"/>
</g>
<text x="203.50" y="229.30" font-size="3.9" font-weight="bold" text-anchor="middle" stroke="#fff" stroke-width="0.9" stroke-opacity="0.75" paint-order="stroke">1.26</text>
<path d="M222.7 231.5H232.2" stroke="#000" stroke-width="1.3" fill="none"/>
<path d="M234.2 231.5l-3 -1.5v3z" fill="#000"/>
<text x="283.00" y="175.50" font-size="7.2" text-anchor="middle" textLength="35.0" lengthAdjust="spacingAndGlyphs" fill="#141414">Cxcl12-WT</text>
<text x="241.50" y="233.30" font-size="8.0" transform="rotate(-90 241.50 233.30)" textLength="17.5" lengthAdjust="spacingAndGlyphs" fill="#141414">c-Kit</text>
<text x="260.20" y="257.80" font-size="7.6" textLength="20.0" lengthAdjust="spacingAndGlyphs" fill="#141414">Sca-1</text>
<path d="M239.5 239.7V256.0H254.5" stroke="#000" stroke-width="1.45" fill="none" stroke-linejoin="miter"/>
<path d="M239.5 237.7l-1.5 3.2h3z M256.5 256.0l-3.2 -1.5v3z" fill="#000"/>
<path d="M251.60 178.30L251.60 239.50" stroke="#777" stroke-width="0.6" fill="none"/>
<path d="M314.50 178.30L314.50 239.50" stroke="#aaa" stroke-width="0.6" fill="none"/>
<path d="M313.20 194.70L313.20 214.80" stroke="#666" stroke-width="0.8" fill="none"/>
<path d="M251.60 239.50L314.50 239.50" stroke="#bbb" stroke-width="0.5" fill="none" stroke-dasharray="0.8 0.8"/>
<path d="M313 193.8H270.6V239" stroke="#ccc" stroke-width="0.5" fill="none" stroke-dasharray="0.7 0.9"/>
<text x="247.50" y="195.50" font-size="3.3" font-weight="bold" stroke="#333" stroke-width="0.16" text-anchor="middle" transform="rotate(-35 247.50 195.50)" fill="#333">10<tspan dy="-1.32" font-size="2.24">3</tspan><tspan dy="1.32"></tspan></text>
<text x="247.50" y="211.00" font-size="3.3" font-weight="bold" stroke="#333" stroke-width="0.16" text-anchor="middle" transform="rotate(-35 247.50 211.00)" fill="#333">10<tspan dy="-1.32" font-size="2.24">2</tspan><tspan dy="1.32"></tspan></text>
<text x="247.50" y="226.50" font-size="3.3" font-weight="bold" stroke="#333" stroke-width="0.16" text-anchor="middle" transform="rotate(-35 247.50 226.50)" fill="#333">10<tspan dy="-1.32" font-size="2.24">1</tspan><tspan dy="1.32"></tspan></text>
<text x="247.50" y="242.00" font-size="3.3" font-weight="bold" stroke="#333" stroke-width="0.16" text-anchor="middle" transform="rotate(-35 247.50 242.00)" fill="#333">10<tspan dy="-1.32" font-size="2.24">0</tspan><tspan dy="1.32"></tspan></text>
<text x="252.50" y="246.50" font-size="3.3" font-weight="bold" stroke="#333" stroke-width="0.16" text-anchor="middle" transform="rotate(-35 252.50 246.50)" fill="#333">10<tspan dy="-1.32" font-size="2.24">0</tspan><tspan dy="1.32"></tspan></text>
<text x="267.50" y="246.50" font-size="3.3" font-weight="bold" stroke="#333" stroke-width="0.16" text-anchor="middle" transform="rotate(-35 267.50 246.50)" fill="#333">10<tspan dy="-1.32" font-size="2.24">1</tspan><tspan dy="1.32"></tspan></text>
<text x="283.00" y="246.50" font-size="3.3" font-weight="bold" stroke="#333" stroke-width="0.16" text-anchor="middle" transform="rotate(-35 283.00 246.50)" fill="#333">10<tspan dy="-1.32" font-size="2.24">2</tspan><tspan dy="1.32"></tspan></text>
<text x="298.50" y="246.50" font-size="3.3" font-weight="bold" stroke="#333" stroke-width="0.16" text-anchor="middle" transform="rotate(-35 298.50 246.50)" fill="#333">10<tspan dy="-1.32" font-size="2.24">3</tspan><tspan dy="1.32"></tspan></text>
<ellipse cx="260.5" cy="225" rx="8" ry="6" fill="#d4d4d4" filter="url(#b2)"/>
<ellipse cx="291" cy="227" rx="10" ry="6" fill="#efefef" filter="url(#b2)"/>
<path transform="translate(252.20 180.25) scale(0.5)" d="M44 36h1M69 38h1M72 38h1M50 44h1M86 44h1M92 45h1M106 48h1M90 51h1M38 52h1M116 53h1M70 55h1M39 57h1M48 57h1M15 58h1M65 58h1M6 60h1M21 60h1M48 60h1M75 60h1M38 61h1M13 62h1M34 62h1M31 64h1M75 64h1M114 64h1M59 65h1M106 65h1M0 66h1M6 66h1M17 66h1M18 67h1M72 68h1M43 69h1M82 69h1M11 70h1M40 70h1M9 71h1M25 71h1M48 71h1M51 71h1M59 71h1M107 71h1M110 71h1M6 72h1M20 72h1M27 72h1M58 72h1M71 72h1M87 72h1M113 72h1M9 73h1M79 73h1M111 73h1M11 74h1M13 74h1M17 74h1M19 74h1M38 74h1M84 74h1M87 74h1M101 74h1M110 74h1M113 74h1M7 75h1M10 75h1M30 75h1M88 75h1M10 76h1M13 76h1M19 76h1M22 76h1M27 76h1M47 76h1M53 76h2M71 76h1M78 76h1M83 76h1M100 76h1M5 77h1M8 77h1M19 77h1M26 77h2M38 77h1M74 77h1M83 77h1M109 77h1M6 78h1M8 78h2M15 78h1M18 78h2M21 78h1M23 78h1M26 78h1M30 78h1M71 78h1M3 79h1M14 79h1M18 79h1M25 79h1M34 79h1M41 79h1M46 79h1M16 80h1M21 80h1M23 80h1M25 80h1M33 80h1M39 80h1M46 80h1M64 80h1M71 80h1M82 80h1M101 80h1M2 81h1M4 81h1M13 81h1M17 81h1M19 81h2M32 81h1M68 81h1M81 81h1M83 81h2M98 81h1M1 82h1M5 82h1M12 82h1M14 82h2M17 82h1M20 82h1M23 82h1M25 82h1M27 82h1M82 82h1M94 82h1M104 82h1M8 83h1M10 83h1M16 83h2M23 83h1M25 83h1M28 83h2M31 83h1M40 83h1M62 83h1M64 83h1M74 83h1M78 83h1M90 83h1M96 83h1M4 84h3M8 84h1M11 84h3M15 84h4M20 84h1M22 84h2M26 84h3M38 84h1M47 84h1M56 84h1M77 84h1M84 84h1M102 84h2M1 85h4M6 85h1M8 85h2M11 85h2M14 85h5M21 85h2M25 85h1M27 85h1M68 85h1M75 85h1M120 85h1M1 86h2M4 86h1M6 86h1M11 86h6M18 86h2M21 86h3M26 86h1M29 86h3M33 86h1M35 86h2M46 86h1M59 86h1M65 86h1M69 86h1M72 86h2M79 86h1M88 86h1M96 86h1M99 86h1M102 86h1M3 87h2M7 87h6M14 87h2M17 87h1M20 87h1M22 87h1M24 87h1M26 87h2M35 87h1M37 87h1M41 87h1M55 87h1M77 87h1M82 87h1M93 87h1M98 87h1M115 87h1M120 87h1M0 88h1M7 88h2M10 88h9M21 88h1M24 88h1M28 88h1M31 88h1M35 88h1M53 88h1M70 88h1M83 88h1M86 88h1M91 88h1M102 88h1M104 88h1M115 88h1M1 89h2M4 89h4M10 89h6M17 89h5M23 89h3M27 89h3M31 89h2M36 89h1M38 89h1M43 89h1M51 89h1M64 89h1M80 89h1M82 89h1M85 89h1M87 89h1M93 89h1M0 90h1M2 90h1M4 90h1M6 90h6M14 90h9M25 90h2M36 90h1M62 90h1M76 90h2M89 90h1M96 90h1M1 91h1M4 91h1M7 91h2M11 91h6M20 91h1M24 91h2M27 91h2M31 91h2M39 91h1M52 91h1M64 91h1M70 91h1M83 91h1M88 91h2M94 91h1M0 92h1M5 92h3M9 92h3M13 92h4M18 92h4M23 92h1M25 92h2M28 92h2M31 92h2M66 92h1M71 92h1M76 92h1M83 92h2M105 92h1M114 92h1M1 93h2M5 93h1M7 93h1M9 93h3M14 93h1M19 93h3M25 93h1M28 93h3M32 93h1M54 93h1M68 93h2M78 93h1M81 93h1M87 93h1M110 93h1M117 93h1M2 94h2M5 94h2M8 94h1M13 94h3M17 94h5M29 94h2M32 94h1M35 94h1M43 94h2M48 94h1M57 94h1M72 94h2M90 94h1M94 94h1M97 94h1M4 95h3M8 95h1M11 95h2M14 95h2M17 95h4M22 95h1M25 95h1M27 95h1M33 95h1M40 95h1M59 95h1M63 95h1M65 95h1M78 95h1M90 95h2M96 95h1M112 95h1M1 96h1M3 96h1M8 96h3M12 96h2M16 96h4M21 96h1M25 96h2M28 96h1M32 96h1M41 96h2M48 96h1M77 96h1M90 96h1M4 97h1M9 97h3M17 97h1M19 97h2M24 97h1M27 97h1M31 97h1M35 97h1M44 97h1M50 97h1M53 97h1M63 97h1M72 97h1M75 97h1M77 97h1M79 97h1M6 98h1M9 98h1M12 98h5M18 98h1M21 98h1M25 98h1M30 98h1M34 98h1M37 98h1M46 98h1M69 98h1M77 98h1M100 98h1M108 98h1M2 99h1M7 99h2M12 99h1M16 99h2M19 99h1M27 99h2M35 99h1M38 99h1M62 99h1M69 99h1M79 99h1M83 99h1M111 99h1M3 100h1M14 100h1M58 100h1M77 100h1M88 100h1M91 100h1M101 100h1M0 101h1M11 101h2M19 101h1M23 101h2M63 101h1M87 101h1M92 101h1M97 101h1M103 101h1M8 102h2M18 102h1M22 102h1M29 102h1M33 102h1M79 102h1M89 102h1M8 103h2M12 103h1M14 103h1M17 103h1M43 103h1M66 103h1M77 103h1M80 103h1M87 103h1M2 104h1M5 104h1M53 104h1M56 104h1M63 104h1M68 104h1M72 104h1M110 104h1M8 105h1M17 105h2M29 105h1M41 105h1M50 105h1M74 105h1M79 105h1M7 106h1M20 106h1M39 106h1M56 106h1M81 106h1M24 107h1M28 107h1M64 107h1M97 107h1M27 108h1M76 108h1M120 108h1M55 109h1M76 109h1M91 109h1M96 109h1M9 110h1M45 110h1M57 110h1M101 110h1M107 110h1M25 111h1M52 111h1M56 111h1M114 111h1M116 111h1M0 112h1M28 112h1M37 114h1M40 114h1M118 114h1M43 115h1M82 115h1M92 115h1M98 115h1M26 116h1M73 116h1M7 117h1M36 117h1M56 117h1M60 117h3M80 117h1" stroke="#5a5a5a" stroke-width="1.4" fill="none"/>
<text x="292.00" y="204.50" font-size="3.6" font-weight="bold" stroke="#111" stroke-width="0.16" text-anchor="middle" fill="#111">1.62</text>
<text x="364.80" y="176.00" font-size="7.2" text-anchor="middle" textLength="38.5" lengthAdjust="spacingAndGlyphs" fill="#141414">Cxcl12-cKO</text>
<text x="324.60" y="232.50" font-size="8.0" transform="rotate(-90 324.60 232.50)" textLength="16.5" lengthAdjust="spacingAndGlyphs" fill="#141414">c-Kit</text>
<text x="343.80" y="256.20" font-size="7.6" textLength="20.0" lengthAdjust="spacingAndGlyphs" fill="#141414">Sca-1</text>
<path d="M321.9 238.8V254.5H337.3" stroke="#000" stroke-width="1.45" fill="none" stroke-linejoin="miter"/>
<path d="M321.9 236.8l-1.5 3.2h3z M339.3 254.5l-3.2 -1.5v3z" fill="#000"/>
<path d="M333.80 178.00L333.80 239.50" stroke="#555" stroke-width="0.7" fill="none"/>
<path d="M395.00 178.00L395.00 239.50" stroke="#aaa" stroke-width="0.6" fill="none"/>
<path d="M393.80 193.80L393.80 214.80" stroke="#666" stroke-width="0.8" fill="none"/>
<path d="M333.80 239.50L395.00 239.50" stroke="#ccc" stroke-width="0.5" fill="none" stroke-dasharray="0.8 0.8"/>
<path d="M393.5 193.8H352V239" stroke="#d4d4d4" stroke-width="0.5" fill="none" stroke-dasharray="0.7 0.9"/>
<text x="329.50" y="195.50" font-size="3.3" font-weight="bold" stroke="#333" stroke-width="0.16" text-anchor="middle" transform="rotate(-35 329.50 195.50)" fill="#333">10<tspan dy="-1.32" font-size="2.24">3</tspan><tspan dy="1.32"></tspan></text>
<text x="329.50" y="211.00" font-size="3.3" font-weight="bold" stroke="#333" stroke-width="0.16" text-anchor="middle" transform="rotate(-35 329.50 211.00)" fill="#333">10<tspan dy="-1.32" font-size="2.24">2</tspan><tspan dy="1.32"></tspan></text>
<text x="329.50" y="226.50" font-size="3.3" font-weight="bold" stroke="#333" stroke-width="0.16" text-anchor="middle" transform="rotate(-35 329.50 226.50)" fill="#333">10<tspan dy="-1.32" font-size="2.24">1</tspan><tspan dy="1.32"></tspan></text>
<text x="329.50" y="242.00" font-size="3.3" font-weight="bold" stroke="#333" stroke-width="0.16" text-anchor="middle" transform="rotate(-35 329.50 242.00)" fill="#333">10<tspan dy="-1.32" font-size="2.24">0</tspan><tspan dy="1.32"></tspan></text>
<text x="334.50" y="246.50" font-size="3.3" font-weight="bold" stroke="#333" stroke-width="0.16" text-anchor="middle" transform="rotate(-35 334.50 246.50)" fill="#333">10<tspan dy="-1.32" font-size="2.24">0</tspan><tspan dy="1.32"></tspan></text>
<text x="349.50" y="246.50" font-size="3.3" font-weight="bold" stroke="#333" stroke-width="0.16" text-anchor="middle" transform="rotate(-35 349.50 246.50)" fill="#333">10<tspan dy="-1.32" font-size="2.24">1</tspan><tspan dy="1.32"></tspan></text>
<text x="365.00" y="246.50" font-size="3.3" font-weight="bold" stroke="#333" stroke-width="0.16" text-anchor="middle" transform="rotate(-35 365.00 246.50)" fill="#333">10<tspan dy="-1.32" font-size="2.24">2</tspan><tspan dy="1.32"></tspan></text>
<text x="380.50" y="246.50" font-size="3.3" font-weight="bold" stroke="#333" stroke-width="0.16" text-anchor="middle" transform="rotate(-35 380.50 246.50)" fill="#333">10<tspan dy="-1.32" font-size="2.24">3</tspan><tspan dy="1.32"></tspan></text>
<ellipse cx="341.5" cy="224" rx="6.5" ry="7.5" fill="#dcdcdc" filter="url(#b2)"/>
<ellipse cx="376.5" cy="228" rx="6" ry="8" fill="#e6e6e6" filter="url(#b2)"/>
<ellipse cx="360" cy="216" rx="24" ry="9" fill="#f2f2f2" filter="url(#b2)"/>
<path transform="translate(334.40 180.25) scale(0.5)" d="M57 38h1M89 38h1M20 40h1M50 40h1M86 41h1M27 42h1M3 43h1M44 43h1M94 43h1M33 44h1M54 44h1M85 44h1M90 44h1M65 45h1M23 46h1M26 46h1M34 46h1M38 46h1M75 47h2M91 47h1M96 47h1M105 47h1M0 48h1M16 48h1M99 48h1M28 49h1M46 49h1M89 49h1M22 50h1M87 50h1M100 50h1M17 51h1M65 51h1M25 52h1M41 52h1M54 52h1M57 52h1M61 52h1M86 52h1M93 52h1M44 53h1M54 53h1M58 53h1M67 53h1M81 53h1M8 54h1M18 54h1M30 54h1M68 54h1M73 54h1M75 54h1M2 55h1M42 55h1M64 55h1M66 55h2M71 55h1M81 55h1M83 55h1M92 55h1M95 55h1M2 56h1M27 56h1M30 56h1M39 56h1M59 56h1M63 56h1M72 56h1M86 56h1M91 56h1M96 56h1M99 56h1M48 57h1M53 57h1M64 57h1M96 57h1M102 57h1M105 57h1M3 58h1M10 58h1M12 58h1M49 58h1M53 58h1M58 58h1M83 58h2M90 58h1M101 58h1M105 58h1M59 59h1M74 59h1M111 59h1M16 60h1M20 60h2M24 60h1M36 60h1M41 60h1M60 60h1M65 60h1M70 60h1M72 60h1M77 60h1M97 60h1M0 61h1M3 61h1M76 61h1M35 62h1M45 62h1M49 62h1M55 62h1M68 62h1M73 62h1M87 62h1M113 62h1M15 63h1M33 63h1M35 63h2M38 63h1M45 63h1M58 63h1M64 63h1M75 63h1M86 63h1M12 64h1M20 64h1M24 64h1M38 64h2M41 64h1M44 64h1M70 64h3M77 64h1M87 64h1M89 64h1M101 64h1M106 64h1M7 65h2M17 65h3M24 65h1M34 65h2M37 65h1M39 65h1M43 65h1M50 65h1M54 65h1M56 65h1M64 65h2M77 65h1M79 65h1M4 66h1M9 66h1M14 66h2M21 66h1M25 66h1M44 66h1M54 66h1M56 66h1M62 66h1M72 66h1M84 66h1M88 66h1M94 66h1M8 67h1M25 67h1M35 67h2M47 67h1M49 67h1M54 67h1M81 67h2M88 67h1M97 67h1M108 67h1M1 68h1M4 68h2M9 68h1M11 68h1M18 68h1M22 68h1M33 68h1M41 68h1M55 68h1M61 68h1M69 68h1M76 68h1M93 68h1M96 68h1M103 68h1M109 68h1M8 69h1M12 69h1M19 69h4M24 69h2M27 69h1M33 69h1M42 69h1M44 69h1M49 69h1M52 69h1M60 69h2M74 69h1M84 69h1M88 69h2M92 69h1M1 70h2M7 70h1M11 70h1M15 70h1M20 70h1M27 70h1M29 70h1M37 70h1M44 70h1M53 70h1M56 70h1M58 70h1M72 70h1M74 70h2M85 70h1M89 70h1M92 70h1M8 71h1M12 71h2M23 71h1M36 71h1M43 71h1M45 71h2M49 71h1M55 71h1M60 71h1M69 71h1M78 71h1M88 71h1M98 71h1M11 72h2M16 72h1M18 72h1M24 72h2M27 72h1M39 72h1M52 72h1M54 72h1M57 72h1M64 72h1M75 72h1M79 72h1M87 72h1M90 72h2M96 72h1M0 73h1M5 73h1M12 73h1M14 73h1M17 73h1M19 73h1M21 73h1M24 73h1M29 73h2M33 73h2M37 73h1M40 73h1M50 73h1M65 73h1M68 73h1M84 73h1M91 73h2M94 73h1M96 73h1M105 73h1M1 74h1M6 74h3M13 74h2M17 74h1M26 74h1M33 74h1M36 74h1M41 74h1M44 74h1M50 74h1M54 74h2M59 74h1M64 74h1M72 74h1M81 74h1M84 74h1M3 75h2M12 75h1M25 75h2M33 75h1M42 75h1M47 75h1M50 75h1M64 75h1M86 75h1M101 75h1M1 76h1M5 76h1M7 76h2M11 76h2M14 76h2M24 76h2M35 76h1M61 76h1M68 76h1M74 76h2M84 76h1M90 76h1M100 76h1M106 76h1M0 77h1M2 77h4M14 77h1M17 77h1M20 77h1M23 77h1M27 77h1M35 77h1M37 77h1M69 77h1M76 77h1M80 77h1M87 77h1M99 77h1M107 77h2M111 77h1M3 78h2M12 78h2M17 78h2M20 78h1M23 78h1M33 78h1M47 78h1M57 78h1M66 78h1M80 78h1M84 78h1M93 78h2M97 78h1M6 79h1M11 79h2M15 79h2M19 79h4M24 79h2M41 79h1M50 79h1M65 79h1M68 79h2M84 79h1M86 79h2M90 79h1M102 79h1M113 79h1M8 80h3M20 80h1M26 80h2M29 80h1M53 80h1M60 80h1M70 80h1M89 80h1M96 80h1M98 80h1M5 81h1M10 81h1M15 81h3M19 81h1M22 81h2M49 81h1M62 81h1M73 81h1M78 81h2M82 81h1M88 81h1M1 82h2M4 82h2M7 82h2M11 82h1M13 82h2M16 82h1M20 82h1M29 82h1M33 82h1M38 82h2M42 82h1M55 82h1M79 82h1M81 82h1M84 82h1M100 82h1M6 83h2M12 83h2M18 83h2M22 83h2M27 83h1M31 83h1M35 83h1M43 83h1M47 83h1M65 83h1M75 83h1M87 83h1M89 83h1M91 83h1M101 83h1M103 83h1M108 83h1M2 84h2M5 84h1M8 84h1M12 84h1M14 84h1M19 84h1M21 84h1M27 84h1M30 84h1M46 84h1M51 84h1M56 84h1M61 84h1M67 84h2M71 84h1M74 84h1M76 84h1M83 84h1M85 84h1M90 84h1M94 84h1M2 85h1M5 85h1M7 85h1M9 85h4M18 85h1M20 85h1M26 85h1M28 85h2M33 85h1M50 85h1M58 85h1M76 85h1M81 85h1M84 85h1M88 85h1M92 85h1M104 85h1M2 86h2M6 86h1M10 86h2M13 86h7M21 86h1M24 86h1M26 86h1M39 86h1M49 86h2M60 86h1M73 86h1M80 86h1M86 86h1M91 86h1M99 86h2M116 86h1M0 87h1M3 87h2M7 87h1M12 87h1M16 87h5M22 87h1M24 87h1M26 87h1M29 87h1M33 87h1M49 87h1M58 87h1M72 87h1M78 87h1M85 87h1M88 87h1M98 87h1M111 87h1M1 88h1M9 88h2M14 88h1M16 88h3M33 88h1M35 88h1M48 88h1M51 88h1M67 88h1M70 88h1M78 88h1M81 88h3M86 88h1M90 88h1M93 88h1M99 88h2M3 89h1M8 89h1M10 89h2M13 89h2M17 89h1M19 89h2M26 89h1M47 89h1M55 89h1M66 89h1M77 89h2M83 89h1M85 89h1M92 89h1M10 90h1M18 90h1M23 90h2M31 90h1M38 90h1M45 90h1M54 90h1M86 90h2M89 90h2M98 90h1M2 91h1M4 91h2M9 91h1M16 91h1M18 91h1M24 91h1M31 91h1M43 91h1M73 91h1M75 91h1M81 91h3M88 91h2M92 91h3M105 91h1M2 92h1M8 92h2M15 92h1M18 92h1M26 92h2M55 92h1M63 92h1M78 92h1M80 92h1M86 92h2M90 92h1M98 92h1M5 93h2M11 93h1M14 93h2M17 93h2M26 93h1M30 93h1M68 93h1M83 93h1M88 93h1M91 93h1M6 94h1M15 94h2M19 94h1M21 94h1M25 94h1M53 94h1M64 94h1M76 94h3M81 94h2M88 94h1M1 95h1M7 95h1M11 95h2M17 95h1M20 95h4M26 95h3M33 95h1M65 95h1M73 95h1M80 95h1M82 95h1M86 95h1M88 95h1M96 95h1M1 96h1M9 96h1M11 96h1M21 96h1M25 96h1M34 96h1M69 96h1M80 96h3M89 96h2M1 97h1M4 97h4M12 97h1M15 97h1M17 97h1M67 97h1M73 97h1M75 97h3M80 97h1M84 97h1M87 97h1M89 97h2M93 97h1M96 97h2M108 97h1M2 98h1M4 98h1M12 98h2M17 98h2M63 98h1M71 98h1M80 98h1M11 99h1M15 99h1M22 99h1M27 99h1M72 99h1M80 99h1M84 99h1M87 99h1M1 100h1M13 100h1M18 100h1M20 100h1M42 100h1M64 100h1M75 100h1M78 100h1M81 100h1M87 100h1M98 100h1M5 101h1M9 101h1M12 101h1M15 101h1M19 101h1M25 101h1M79 101h1M85 101h1M90 101h1M94 101h1M98 101h1M18 102h1M20 102h1M35 102h1M54 102h1M78 102h1M82 102h1M87 102h2M14 103h1M18 103h1M24 103h1M55 103h1M71 103h1M79 103h1M83 103h1M88 103h2M97 103h1M11 104h1M76 104h1M79 104h1M82 104h1M90 104h1M95 104h1M12 105h1M18 105h1M72 105h1M84 105h1M89 105h1M95 105h1M18 106h1M79 106h2M84 106h2M4 107h1M14 107h1M68 107h1M75 107h1M88 107h1M24 108h1M75 108h1M87 108h1M93 108h2M96 108h1M7 109h1M11 109h1M19 109h1M25 109h1M51 109h1M88 109h1M36 110h1M80 110h1M73 111h1M80 111h3M69 112h1M81 112h2M64 113h1M71 113h1M76 113h1M83 113h1M12 114h1M87 114h1M96 114h1M45 115h1M62 115h1M65 115h1M83 115h1M80 117h1M91 117h1" stroke="#5a5a5a" stroke-width="1.4" fill="none"/>
<text x="374.00" y="204.50" font-size="3.6" font-weight="bold" stroke="#111" stroke-width="0.16" text-anchor="middle" fill="#111">11.93</text>
<path d="M316.50 194.00L316.50 215.00" stroke="#bbb" stroke-width="0.5" fill="none"/>
</g>
</svg></body></html>
